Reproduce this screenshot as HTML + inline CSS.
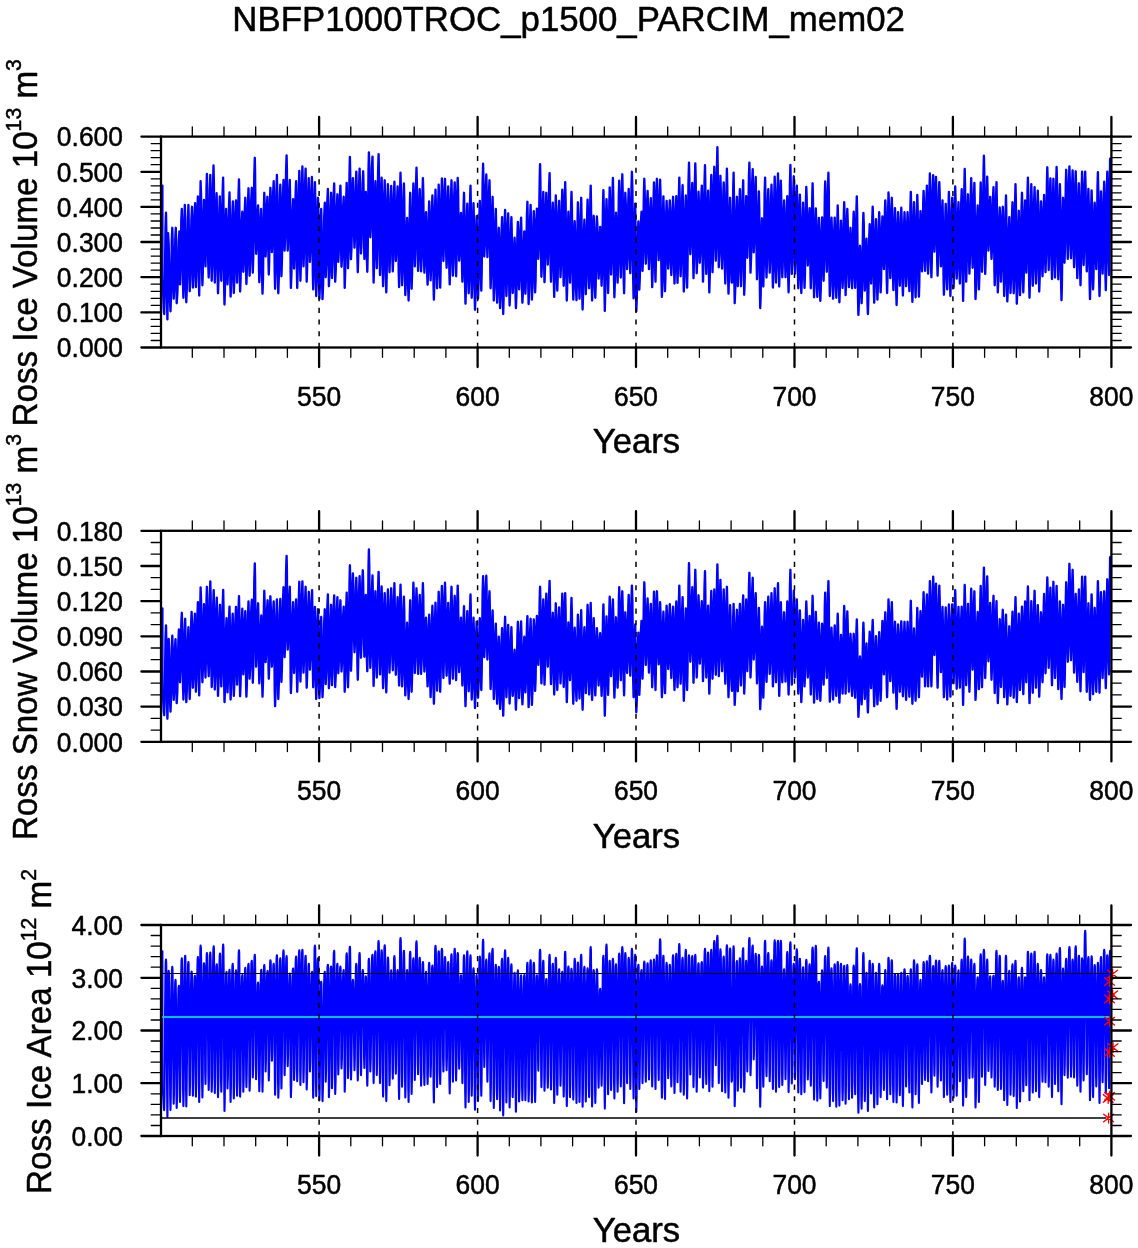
<!DOCTYPE html>
<html><head><meta charset="utf-8"><title>NBFP1000TROC_p1500_PARCIM_mem02</title>
<style>html,body{margin:0;padding:0;background:#fff;}svg{display:block;}text{font-family:"Liberation Sans",sans-serif;fill:#000;stroke:#000;stroke-width:0.5px;stroke-linejoin:round;}#wrap{position:relative;width:1138px;height:1248px;overflow:hidden;}#wrap svg{position:absolute;left:0;top:0;}#labels{filter:grayscale(1);}</style>
</head><body><div id="wrap">
<svg width="1138" height="1248" viewBox="0 0 1138 1248">
<rect x="0" y="0" width="1138" height="1248" fill="#ffffff"/>
<g>
<path d="M162.4,185.6 162.4,199.3 162.4,232.3 162.4,265.3 162.4,279.0 162.8,284.1 163.3,296.5 163.7,308.8 164.2,314.0 164.6,299.1 165.1,263.3 165.5,227.4 166.0,212.6 166.3,228.2 166.7,266.0 167.1,303.7 167.4,319.4 167.6,306.7 167.8,276.3 167.9,245.8 168.1,233.2 168.7,244.6 169.3,272.2 169.9,299.8 170.5,311.3 170.9,299.1 171.4,269.6 171.8,240.0 172.3,227.8 172.6,238.2 173.0,263.3 173.3,288.3 173.7,298.7 174.2,288.3 174.8,263.3 175.3,238.2 175.8,227.8 176.1,238.9 176.3,265.5 176.5,292.2 176.7,303.2 177.4,292.7 178.1,267.3 178.8,241.9 179.4,231.4 179.6,239.2 179.7,257.9 179.8,276.6 180.0,284.4 180.4,273.3 180.9,246.7 181.3,220.0 181.8,209.0 182.2,222.0 182.6,253.4 183.0,284.8 183.4,297.8 183.7,284.2 184.1,251.4 184.5,218.6 184.8,205.0 185.2,219.3 185.5,253.7 185.9,288.1 186.3,302.3 186.8,288.1 187.3,253.7 187.9,219.3 188.4,205.0 188.7,217.6 189.0,248.1 189.4,278.6 189.7,291.2 190.2,278.8 190.8,249.0 191.4,219.2 192.0,206.8 192.2,218.6 192.4,247.2 192.7,275.8 192.9,287.6 193.4,275.2 194.0,245.4 194.5,215.6 195.1,203.2 195.3,215.5 195.5,245.1 195.7,274.8 195.9,287.1 196.4,273.8 196.9,241.7 197.4,209.7 197.9,196.4 198.2,210.9 198.6,245.9 198.9,281.0 199.2,295.5 199.5,278.7 199.9,238.3 200.3,197.9 200.6,181.2 201.1,196.4 201.5,233.2 202.0,270.0 202.4,285.3 202.8,272.8 203.2,242.6 203.6,212.5 204.0,200.0 204.4,209.7 204.7,233.2 205.1,256.7 205.5,266.4 205.8,252.9 206.2,220.2 206.5,187.5 206.9,174.0 207.3,189.1 207.8,225.8 208.2,262.4 208.7,277.5 209.1,262.5 209.5,226.2 209.9,189.9 210.3,174.9 210.7,190.4 211.0,227.8 211.4,265.3 211.7,280.8 212.2,263.9 212.6,223.2 213.1,182.4 213.5,165.5 213.9,182.7 214.2,224.1 214.5,265.4 214.8,282.6 215.2,269.5 215.7,237.9 216.1,206.3 216.6,193.2 216.9,207.8 217.3,243.3 217.7,278.7 218.0,293.3 218.5,279.1 218.9,244.9 219.4,210.6 219.8,196.4 220.2,208.8 220.5,238.6 220.9,268.4 221.3,280.8 221.7,265.7 222.2,229.2 222.6,192.7 223.1,177.6 223.4,196.1 223.8,241.0 224.1,285.9 224.5,304.5 224.9,290.5 225.3,256.7 225.7,223.0 226.1,209.0 226.5,220.0 226.8,246.7 227.2,273.3 227.5,284.4 228.0,270.9 228.5,238.4 229.0,205.9 229.5,192.5 229.8,207.7 230.1,244.5 230.3,281.3 230.6,296.6 231.2,282.6 231.8,249.0 232.3,215.4 232.9,201.4 233.1,214.8 233.4,247.2 233.6,279.6 233.8,293.0 234.4,279.4 234.9,246.7 235.4,213.9 236.0,200.4 236.2,212.4 236.5,241.5 236.8,270.5 237.1,282.6 237.5,267.5 238.0,231.0 238.5,194.5 239.0,179.4 239.3,195.8 239.6,235.4 239.8,275.1 240.1,291.5 240.6,279.8 241.2,251.6 241.7,223.4 242.3,211.7 242.5,220.5 242.8,241.7 243.1,263.0 243.3,271.8 243.8,261.0 244.3,234.8 244.8,208.7 245.3,197.8 245.6,210.5 245.8,240.9 246.1,271.4 246.4,284.0 246.9,270.0 247.5,236.2 248.0,202.3 248.5,188.3 248.8,201.1 249.1,232.0 249.3,262.9 249.6,275.7 250.2,262.9 250.7,231.8 251.2,200.7 251.8,187.8 252.0,200.2 252.3,230.2 252.6,260.3 252.8,272.7 253.3,255.9 253.8,215.3 254.3,174.6 254.8,157.8 255.1,171.9 255.4,205.8 255.8,239.8 256.1,253.8 256.6,246.7 257.1,229.6 257.6,212.5 258.1,205.4 258.4,216.6 258.7,243.8 259.0,271.0 259.3,282.2 259.8,271.5 260.2,245.6 260.7,219.7 261.1,209.0 261.5,221.4 261.8,251.3 262.2,281.3 262.5,293.7 263.0,278.9 263.4,243.3 263.9,207.6 264.3,192.8 264.6,202.2 265.0,224.7 265.3,247.2 265.6,256.5 266.0,247.8 266.5,226.7 266.9,205.5 267.4,196.8 267.7,208.2 268.1,235.6 268.5,263.1 268.8,274.5 269.2,261.8 269.6,231.1 270.0,200.5 270.4,187.8 270.8,197.2 271.2,219.9 271.5,242.6 271.9,252.1 272.3,241.7 272.8,216.6 273.2,191.5 273.7,181.2 274.0,196.9 274.4,235.0 274.7,273.1 275.1,288.8 275.6,272.2 276.0,231.9 276.4,191.6 276.9,174.9 277.3,192.2 277.6,234.1 278.0,276.0 278.3,293.3 278.8,277.4 279.3,239.0 279.8,200.6 280.3,184.7 280.6,198.1 280.8,230.5 281.1,262.9 281.4,276.3 281.9,262.2 282.5,228.1 283.0,194.0 283.5,179.9 283.8,190.3 284.1,215.3 284.3,240.3 284.6,250.6 285.1,236.7 285.6,203.1 286.1,169.4 286.6,155.5 286.9,169.4 287.1,203.1 287.4,236.7 287.7,250.6 288.2,240.3 288.7,215.3 289.3,190.3 289.8,179.9 290.1,195.7 290.4,233.9 290.6,272.1 290.9,287.9 291.4,274.9 292.0,243.5 292.5,212.1 293.1,199.1 293.3,209.3 293.6,233.8 293.9,258.4 294.1,268.6 294.6,255.8 295.1,224.9 295.6,194.0 296.1,181.2 296.4,196.8 296.6,234.6 296.9,272.3 297.2,287.9 297.7,270.8 298.3,229.4 298.8,188.1 299.3,170.9 299.6,187.0 299.9,225.8 300.1,264.7 300.4,280.8 300.9,264.0 301.4,223.6 301.9,183.2 302.4,166.4 302.7,181.1 302.9,216.4 303.2,251.8 303.5,266.4 304.0,252.1 304.5,217.5 305.1,182.9 305.6,168.6 305.9,185.1 306.2,225.1 306.4,265.1 306.7,281.7 307.2,266.5 307.7,229.9 308.2,193.3 308.7,178.1 309.0,190.4 309.3,220.0 309.6,249.6 309.9,261.9 310.4,249.5 310.9,219.5 311.4,189.5 311.9,177.0 312.2,193.5 312.5,233.2 312.8,272.9 313.2,289.4 313.6,273.7 314.1,235.7 314.5,197.8 314.9,182.1 315.3,198.7 315.6,239.0 315.9,279.3 316.2,296.0 316.7,281.6 317.1,246.9 317.6,212.2 318.0,197.8 318.4,212.6 318.7,248.3 319.1,283.9 319.4,298.7 319.9,285.6 320.3,253.8 320.8,222.1 321.2,209.0 321.5,222.2 321.9,254.0 322.2,285.9 322.5,299.1 323.1,285.0 323.7,250.9 324.2,216.8 324.8,202.7 325.0,213.6 325.3,239.9 325.5,266.3 325.7,277.2 326.3,264.2 326.8,233.0 327.3,201.8 327.9,188.9 328.1,203.1 328.4,237.5 328.7,271.9 328.9,286.2 329.5,272.5 330.0,239.5 330.6,206.5 331.1,192.8 331.3,205.3 331.6,235.4 331.8,265.6 332.0,278.1 332.5,264.2 333.1,230.8 333.6,197.3 334.2,183.5 334.4,197.9 334.7,232.6 335.0,267.3 335.2,281.7 335.8,268.9 336.3,238.0 336.8,207.1 337.4,194.3 337.6,204.2 337.8,228.1 338.1,252.0 338.3,261.9 338.8,250.8 339.4,223.8 339.9,196.8 340.4,185.6 340.7,197.5 341.0,226.2 341.2,254.9 341.5,266.8 342.1,256.5 342.6,231.8 343.1,207.0 343.7,196.8 343.9,210.1 344.2,242.4 344.5,274.6 344.7,287.9 345.2,272.6 345.7,235.4 346.2,198.3 346.7,182.9 347.0,195.4 347.3,225.6 347.7,255.7 348.0,268.2 348.5,251.9 349.0,212.6 349.5,173.2 349.9,156.9 350.2,171.9 350.5,208.1 350.8,244.2 351.0,259.2 351.5,247.3 352.0,218.7 352.4,190.0 352.9,178.1 353.3,188.3 353.7,212.8 354.1,237.4 354.5,247.6 355.0,236.4 355.4,209.6 355.9,182.8 356.3,171.6 356.7,186.4 357.1,221.9 357.4,257.4 357.8,272.2 358.2,257.0 358.7,220.4 359.1,183.8 359.6,168.6 359.9,181.0 360.3,211.0 360.6,241.1 361.0,253.5 361.5,241.4 362.1,212.4 362.6,183.3 363.2,171.3 363.5,184.1 363.8,215.1 364.1,246.0 364.4,258.9 364.8,249.1 365.1,225.4 365.5,201.7 365.8,191.9 366.2,203.6 366.6,231.9 366.9,260.1 367.3,271.8 367.7,254.3 368.1,212.1 368.5,169.9 368.9,152.4 369.3,164.9 369.6,194.9 370.0,224.9 370.3,237.3 370.9,225.5 371.4,196.9 371.9,168.4 372.5,156.6 372.8,175.0 373.0,219.6 373.3,264.1 373.6,282.6 374.0,267.7 374.5,231.9 374.9,196.0 375.4,181.2 375.7,193.9 376.1,224.7 376.4,255.5 376.8,268.2 377.2,251.5 377.7,211.2 378.1,170.9 378.6,154.2 378.9,171.9 379.3,214.6 379.7,257.3 380.0,275.0 380.4,260.8 380.8,226.3 381.2,191.8 381.6,177.6 382.0,193.5 382.4,231.9 382.7,270.3 383.1,286.2 383.5,270.6 383.9,233.2 384.3,195.8 384.7,180.3 385.1,196.7 385.5,236.3 385.9,276.0 386.3,292.4 386.7,276.6 387.1,238.3 387.5,200.1 387.9,184.2 388.3,197.1 388.7,228.2 389.1,259.3 389.5,272.2 389.9,259.5 390.3,229.1 390.8,198.6 391.2,186.0 391.6,198.5 392.0,228.7 392.4,258.9 392.8,271.4 393.2,258.3 393.6,226.6 394.0,194.8 394.4,181.7 394.7,193.3 395.1,221.4 395.5,249.4 395.8,261.0 396.3,250.1 396.7,223.8 397.2,197.4 397.6,186.5 398.0,201.3 398.3,236.8 398.7,272.3 399.1,287.1 399.4,270.3 399.8,229.9 400.1,189.5 400.5,172.7 400.9,189.2 401.3,229.0 401.7,268.8 402.1,285.3 402.6,270.4 403.0,234.4 403.4,198.4 403.9,183.5 404.3,199.8 404.6,239.3 405.0,278.8 405.3,295.1 405.8,283.8 406.2,256.5 406.7,229.3 407.1,217.9 407.5,230.0 407.8,259.2 408.2,288.4 408.6,300.5 409.0,284.7 409.4,246.7 409.8,208.6 410.2,192.8 410.5,206.9 410.9,240.8 411.3,274.8 411.6,288.8 412.1,273.4 412.5,236.2 413.0,198.9 413.4,183.5 413.8,195.6 414.1,224.9 414.5,254.3 414.8,266.4 415.2,252.0 415.7,217.1 416.1,182.1 416.5,167.7 416.9,182.8 417.3,219.3 417.7,255.8 418.1,270.9 418.5,258.9 418.9,230.1 419.3,201.2 419.7,189.2 420.1,201.3 420.4,230.3 420.8,259.4 421.1,271.4 421.6,257.8 422.0,224.8 422.5,191.8 422.9,178.1 423.3,192.0 423.6,225.4 424.0,258.8 424.4,272.7 424.8,263.8 425.2,242.4 425.6,221.1 426.0,212.2 426.4,222.8 426.8,248.5 427.2,274.1 427.6,284.7 428.0,272.5 428.4,243.1 428.8,213.6 429.2,201.4 429.6,213.0 429.9,240.9 430.3,268.8 430.6,280.4 431.1,268.0 431.5,238.0 432.0,207.9 432.4,195.5 432.8,210.8 433.2,247.6 433.5,284.4 433.9,299.6 434.3,283.5 434.7,244.6 435.1,205.7 435.5,189.6 435.9,204.0 436.3,238.9 436.7,273.9 437.1,288.3 437.5,273.1 437.9,236.5 438.3,199.9 438.7,184.7 439.1,199.8 439.4,236.2 439.8,272.5 440.2,287.6 440.6,271.6 441.1,233.0 441.5,194.4 441.9,178.5 442.3,190.6 442.7,219.7 443.0,248.9 443.4,261.0 443.8,249.0 444.2,219.9 444.6,190.9 445.0,178.8 445.4,191.9 445.8,223.3 446.2,254.8 446.6,267.8 447.0,255.9 447.4,227.2 447.8,198.4 448.2,186.5 448.6,200.9 448.9,235.4 449.3,270.0 449.7,284.4 450.1,269.1 450.6,232.3 451.0,195.5 451.5,180.3 451.8,194.2 452.2,228.0 452.5,261.8 452.9,275.7 453.3,262.1 453.8,229.1 454.2,196.1 454.7,182.4 455.1,196.2 455.4,229.3 455.8,262.5 456.1,276.3 456.5,261.9 456.9,227.1 457.3,192.3 457.7,177.9 458.1,190.0 458.5,219.3 458.8,248.5 459.2,260.7 459.6,253.7 460.1,236.8 460.5,219.9 461.0,212.9 461.3,223.0 461.7,247.3 462.1,271.6 462.4,281.7 462.8,268.7 463.2,237.2 463.6,205.8 464.0,192.8 464.4,209.1 464.7,248.3 465.1,287.5 465.5,303.7 465.9,289.1 466.4,253.7 466.8,218.3 467.3,203.6 467.6,216.7 468.0,248.5 468.3,280.2 468.7,293.3 469.1,277.6 469.6,239.5 470.0,201.4 470.5,185.6 470.8,202.1 471.1,241.7 471.4,281.4 471.7,297.8 472.2,284.0 472.6,250.5 473.1,217.1 473.5,203.2 473.9,218.8 474.3,256.5 474.6,294.2 475.0,309.8 475.4,296.1 475.8,263.0 476.2,229.9 476.6,216.2 476.9,228.2 477.3,257.4 477.7,286.6 478.0,298.7 478.5,284.4 478.9,249.8 479.4,215.2 479.8,200.9 480.2,214.0 480.5,245.8 480.9,277.5 481.3,290.6 481.7,272.1 482.2,227.2 482.6,182.3 483.1,163.7 483.4,177.3 483.7,210.1 484.0,242.9 484.3,256.5 484.8,244.5 485.3,215.5 485.8,186.5 486.3,174.5 486.6,186.6 486.8,215.8 487.1,245.0 487.4,257.1 487.9,245.8 488.4,218.7 489.0,191.5 489.5,180.3 489.8,196.1 490.1,234.3 490.3,272.5 490.6,288.3 491.1,274.9 491.6,242.5 492.1,210.2 492.6,196.8 492.9,212.0 493.2,248.6 493.5,285.3 493.8,300.5 494.3,287.1 494.8,254.7 495.3,222.4 495.8,209.0 496.1,222.7 496.4,255.8 496.7,288.9 497.1,302.7 497.5,291.7 497.9,265.2 498.4,238.8 498.8,227.8 499.2,239.6 499.5,267.9 499.8,296.3 500.1,308.1 500.6,294.7 501.1,262.6 501.6,230.4 502.1,217.1 502.3,231.2 502.6,265.5 502.9,299.8 503.2,314.0 503.6,298.7 504.1,261.9 504.6,225.1 505.1,209.9 505.4,222.5 505.8,252.9 506.1,283.4 506.4,296.0 506.8,283.9 507.3,254.7 507.7,225.6 508.2,213.5 508.5,226.9 508.9,259.5 509.3,292.1 509.6,305.5 510.1,292.6 510.5,261.3 511.0,230.0 511.4,217.1 511.7,228.2 512.0,255.0 512.4,281.9 512.7,293.0 513.2,284.9 513.7,265.3 514.1,245.8 514.6,237.7 515.0,248.0 515.3,272.9 515.6,297.7 515.9,308.1 516.4,295.4 516.9,265.0 517.4,234.5 517.9,221.9 518.2,231.8 518.5,255.6 518.8,279.5 519.1,289.4 519.6,278.9 520.1,253.5 520.6,228.1 521.1,217.6 521.4,230.0 521.7,260.1 522.0,290.2 522.4,302.7 522.9,292.2 523.3,267.0 523.8,241.8 524.3,231.4 524.6,240.5 524.9,262.6 525.1,284.6 525.4,293.7 525.9,280.2 526.4,247.7 526.9,215.3 527.4,201.8 527.7,216.8 528.0,252.9 528.3,289.1 528.6,304.1 529.1,289.6 529.6,254.6 530.1,219.5 530.6,205.0 530.9,218.9 531.2,252.3 531.6,285.8 531.9,299.6 532.4,286.7 532.9,255.4 533.4,224.1 533.8,211.1 534.2,223.0 534.5,251.8 534.8,280.5 535.1,292.4 535.6,280.2 536.0,250.5 536.4,220.9 536.9,208.6 537.3,216.0 537.6,233.7 538.0,251.5 538.3,258.9 538.8,245.0 539.2,211.5 539.7,178.0 540.1,164.1 540.4,180.6 540.8,220.5 541.1,260.3 541.4,276.8 541.9,264.4 542.3,234.4 542.8,204.4 543.3,191.9 543.6,205.1 543.9,237.1 544.2,269.0 544.5,282.2 545.0,269.1 545.4,237.5 545.9,205.9 546.3,192.8 546.7,203.3 547.1,228.7 547.4,254.1 547.8,264.6 548.2,251.2 548.7,218.8 549.1,186.5 549.6,173.1 549.9,189.0 550.3,227.4 550.6,265.8 551.0,281.7 551.4,270.1 551.9,242.2 552.3,214.3 552.8,202.7 553.2,216.5 553.5,249.8 553.9,283.1 554.2,296.9 554.6,282.1 555.0,246.2 555.4,210.4 555.8,195.5 556.2,209.4 556.6,243.1 556.9,276.7 557.3,290.6 557.7,277.5 558.2,245.8 558.6,214.0 559.1,200.9 559.4,212.1 559.8,239.0 560.2,266.0 560.5,277.2 561.0,264.4 561.4,233.4 561.9,202.4 562.3,189.6 562.7,203.7 563.0,237.7 563.4,271.7 563.7,285.8 564.1,270.6 564.5,233.9 564.8,197.2 565.2,182.1 565.6,199.4 566.0,241.3 566.4,283.2 566.8,300.5 567.2,287.5 567.6,256.1 568.0,224.7 568.4,211.7 568.8,222.0 569.2,247.1 569.6,272.2 570.0,282.6 570.4,269.3 570.7,237.2 571.1,205.2 571.5,191.9 571.9,207.7 572.4,245.8 572.8,283.8 573.3,299.6 573.6,288.1 574.0,260.4 574.3,232.7 574.7,221.2 575.1,232.7 575.6,260.7 576.0,288.6 576.5,300.2 576.8,285.8 577.2,251.2 577.6,216.7 577.9,202.3 578.3,216.4 578.7,250.5 579.1,284.6 579.5,298.7 579.9,283.9 580.3,248.3 580.8,212.6 581.2,197.8 581.5,214.2 581.9,253.7 582.2,293.1 582.6,309.5 583.0,296.3 583.5,264.6 583.9,232.9 584.4,219.7 584.7,230.7 585.1,257.0 585.5,283.3 585.8,294.2 586.3,280.4 586.7,246.9 587.2,213.5 587.6,199.6 588.0,212.6 588.3,244.0 588.7,275.3 589.1,288.3 589.5,273.3 589.9,237.0 590.3,200.7 590.7,185.6 591.0,202.5 591.4,243.1 591.7,283.7 592.1,300.5 592.5,288.1 592.9,258.2 593.3,228.2 593.7,215.8 594.1,227.8 594.5,256.8 594.9,285.8 595.3,297.8 595.7,285.9 596.1,257.2 596.5,228.4 596.9,216.5 597.4,225.6 597.8,247.6 598.2,269.5 598.6,278.6 599.0,271.0 599.4,252.8 599.8,234.5 600.2,226.9 600.5,235.5 600.9,256.4 601.3,277.2 601.6,285.8 602.1,271.8 602.5,238.0 603.0,204.1 603.4,190.1 603.8,207.8 604.1,250.5 604.5,293.2 604.8,310.9 605.2,294.5 605.7,255.0 606.1,215.5 606.5,199.1 606.9,212.8 607.3,246.0 607.7,279.2 608.1,293.0 608.5,277.5 608.9,240.2 609.3,202.9 609.7,187.4 610.1,200.2 610.4,231.0 610.8,261.7 611.1,274.5 611.6,260.3 612.0,226.2 612.5,192.1 612.9,177.9 613.3,195.4 613.6,237.6 614.0,279.8 614.4,297.3 614.8,284.9 615.2,254.9 615.6,225.0 616.0,212.6 616.4,222.8 616.8,247.6 617.2,272.3 617.6,282.6 618.0,267.6 618.4,231.6 618.8,195.5 619.2,180.6 619.6,194.8 620.0,229.1 620.4,263.3 620.8,277.5 621.2,262.4 621.5,225.9 621.9,189.4 622.3,174.3 622.7,191.8 623.2,233.8 623.6,275.9 624.1,293.3 624.4,278.6 624.7,243.1 625.0,207.5 625.3,192.8 625.8,204.0 626.2,231.0 626.7,257.9 627.1,269.1 627.5,257.4 627.9,229.0 628.3,200.6 628.7,188.9 629.1,201.2 629.5,231.1 629.9,260.9 630.3,273.2 630.7,258.4 631.1,222.5 631.5,186.7 631.9,171.8 632.4,190.4 632.8,235.1 633.2,279.8 633.6,298.4 634.0,284.5 634.4,251.0 634.8,217.5 635.2,203.6 635.4,219.4 635.7,257.4 636.0,295.5 636.3,311.3 636.8,298.1 637.3,266.4 637.9,234.7 638.4,221.5 638.6,231.5 638.9,255.6 639.1,279.8 639.3,289.7 639.8,278.3 640.4,250.7 640.9,223.1 641.5,211.7 641.7,220.3 642.0,241.3 642.3,262.2 642.5,270.9 643.0,257.4 643.4,224.9 643.9,192.3 644.3,178.8 644.7,191.3 645.1,221.3 645.4,251.3 645.8,263.7 646.2,253.1 646.7,227.4 647.1,201.7 647.6,191.0 647.9,202.5 648.3,230.1 648.6,257.7 649.0,269.1 649.4,258.7 649.9,233.7 650.3,208.6 650.8,198.2 651.2,211.2 651.5,242.6 651.9,274.0 652.2,287.1 652.7,271.7 653.1,234.7 653.6,197.7 654.0,182.4 654.4,196.9 654.7,232.0 655.1,267.1 655.5,281.7 655.8,266.6 656.2,230.2 656.5,193.9 656.9,178.8 657.3,190.7 657.8,219.5 658.2,248.2 658.7,260.1 659.1,248.4 659.4,219.9 659.8,191.5 660.1,179.7 660.6,196.9 661.0,238.3 661.5,279.8 661.9,296.9 662.3,282.2 662.6,246.7 663.0,211.1 663.4,196.4 663.8,210.3 664.2,243.8 664.6,277.3 665.0,291.2 665.4,278.0 665.8,246.0 666.2,214.1 666.6,200.9 667.0,210.8 667.4,234.7 667.8,258.7 668.2,268.6 668.6,258.6 669.0,234.5 669.4,210.3 669.8,200.4 670.2,211.3 670.5,237.7 670.9,264.1 671.3,275.0 671.7,263.6 672.2,235.9 672.6,208.2 673.1,196.8 673.4,209.5 673.8,240.1 674.1,270.8 674.5,283.5 674.9,270.7 675.4,239.8 675.8,208.9 676.3,196.1 676.6,208.8 676.9,239.5 677.2,270.2 677.5,282.9 678.0,267.5 678.4,230.2 678.9,193.0 679.3,177.6 679.6,192.0 680.0,226.9 680.3,261.8 680.6,276.3 681.1,262.9 681.6,230.7 682.1,198.5 682.6,185.1 682.9,200.7 683.2,238.3 683.5,276.0 683.8,291.5 684.3,277.5 684.8,243.5 685.3,209.6 685.8,195.5 686.1,209.0 686.4,241.6 686.7,274.1 687.1,287.6 687.5,269.3 688.0,225.1 688.5,181.0 689.0,162.7 689.3,176.1 689.7,208.4 690.0,240.8 690.3,254.2 690.8,243.8 691.3,218.6 691.8,193.4 692.3,182.9 692.6,196.9 692.9,230.5 693.2,264.1 693.5,278.1 694.0,261.3 694.4,220.7 694.9,180.2 695.3,163.4 695.7,179.5 696.0,218.3 696.4,257.1 696.7,273.2 697.2,261.3 697.6,232.4 698.1,203.5 698.5,191.6 698.9,202.0 699.2,227.2 699.5,252.4 699.8,262.8 700.3,251.5 700.8,224.2 701.3,196.9 701.8,185.6 702.1,199.7 702.4,233.7 702.7,267.6 703.0,281.7 703.5,264.6 704.0,223.4 704.5,182.2 705.0,165.2 705.3,181.1 705.6,219.6 705.9,258.0 706.3,273.9 706.7,261.8 707.2,232.3 707.6,202.9 708.1,190.7 708.4,205.6 708.7,241.6 709.0,277.5 709.3,292.4 709.8,275.2 710.3,233.7 710.8,192.1 711.3,174.9 711.6,189.1 711.9,223.5 712.2,257.9 712.5,272.2 713.0,256.7 713.4,219.5 713.9,182.2 714.3,166.8 714.7,180.5 715.1,213.7 715.4,246.9 715.8,260.7 716.2,244.1 716.6,203.9 717.0,163.8 717.4,147.2 717.7,164.8 718.1,207.3 718.5,249.7 718.8,267.3 719.2,253.9 719.6,221.5 720.0,189.2 720.4,175.8 720.8,189.4 721.2,222.2 721.6,255.0 722.1,268.6 722.5,255.9 722.9,225.5 723.3,195.0 723.7,182.4 724.1,197.2 724.5,232.9 724.9,268.7 725.3,283.5 725.7,266.6 726.1,226.0 726.5,185.4 726.9,168.6 727.3,186.9 727.7,231.1 728.1,275.4 728.5,293.7 728.9,279.7 729.3,245.8 729.7,211.9 730.1,197.8 730.5,210.2 730.8,240.0 731.2,269.9 731.6,282.2 731.7,282.3 731.8,282.4 731.9,282.5 732.0,282.6 732.4,266.5 732.8,227.6 733.2,188.8 733.6,172.7 733.9,191.8 734.2,238.0 734.4,284.1 734.7,303.2 735.3,287.6 735.8,250.0 736.3,212.4 736.9,196.8 737.1,209.9 737.3,241.5 737.5,273.1 737.8,286.2 738.3,272.0 738.8,237.7 739.4,203.4 739.9,189.2 740.2,203.4 740.5,237.7 740.7,272.0 741.0,286.2 741.5,270.6 742.1,233.2 742.6,195.8 743.2,180.3 743.4,197.0 743.7,237.5 744.0,278.0 744.2,294.8 744.7,280.3 745.2,245.4 745.7,210.5 746.2,196.1 746.5,205.1 746.7,226.9 747.0,248.8 747.3,257.8 747.8,243.9 748.4,210.2 748.9,176.6 749.4,162.7 749.7,178.8 750.0,217.7 750.2,256.6 750.5,272.7 751.1,257.5 751.6,220.9 752.1,184.3 752.7,169.1 752.9,181.3 753.2,210.8 753.5,240.2 753.7,252.4 754.2,241.4 754.7,214.7 755.2,188.1 755.7,177.0 756.0,192.0 756.3,228.2 756.7,264.4 757.0,279.3 757.5,266.5 758.0,235.4 758.5,204.3 758.9,191.4 759.3,208.5 759.6,249.7 759.9,291.0 760.2,308.1 760.7,294.9 761.1,263.2 761.6,231.5 762.0,218.3 762.3,228.3 762.6,252.4 762.9,276.5 763.3,286.5 763.7,270.6 764.2,232.0 764.6,193.5 765.1,177.6 765.4,192.2 765.8,227.6 766.1,262.9 766.5,277.5 766.9,264.6 767.4,233.4 767.8,202.2 768.3,189.2 768.6,201.5 769.0,231.0 769.4,260.5 769.7,272.7 770.2,259.8 770.6,228.7 771.1,197.6 771.5,184.7 771.9,199.8 772.2,236.2 772.6,272.5 772.9,287.6 773.4,271.3 773.8,232.1 774.3,192.9 774.7,176.7 775.1,192.2 775.4,229.6 775.7,267.1 776.0,282.6 776.5,266.6 777.0,228.0 777.5,189.4 778.0,173.4 778.3,190.0 778.6,230.0 778.9,270.0 779.2,286.5 779.6,271.0 780.0,233.6 780.4,196.1 780.8,180.6 781.2,194.8 781.6,228.9 781.9,263.0 782.3,277.2 782.7,265.9 783.2,238.8 783.6,211.6 784.1,200.4 784.4,211.6 784.8,238.8 785.2,265.9 785.5,277.2 786.0,265.3 786.4,236.6 786.9,207.9 787.3,196.1 787.6,210.2 787.9,244.2 788.2,278.3 788.6,292.4 789.0,273.8 789.5,228.7 789.9,183.7 790.4,165.0 790.7,181.0 791.1,219.5 791.4,258.0 791.8,273.9 792.3,259.6 792.8,225.1 793.3,190.6 793.8,176.3 794.1,190.6 794.4,224.9 794.7,259.3 795.0,273.6 795.5,260.7 795.9,229.6 796.4,198.5 796.8,185.6 797.2,200.7 797.5,237.0 797.9,273.3 798.3,288.3 798.7,274.6 799.1,241.5 799.5,208.3 799.9,194.6 800.2,209.0 800.6,243.8 800.9,278.6 801.3,293.0 801.8,279.8 802.2,247.8 802.7,215.9 803.1,202.7 803.5,215.2 803.8,245.3 804.2,275.5 804.5,287.9 805.0,273.2 805.4,237.4 805.9,201.7 806.3,186.9 806.7,198.4 807.1,226.2 807.4,254.0 807.8,265.5 808.2,257.1 808.7,236.8 809.1,216.5 809.6,208.1 809.9,219.8 810.2,248.2 810.5,276.6 810.8,288.3 811.3,272.9 811.7,235.8 812.2,198.7 812.6,183.3 813.0,200.0 813.3,240.3 813.7,280.6 814.1,297.3 814.5,284.3 814.9,252.9 815.4,221.4 815.8,208.4 816.2,221.4 816.6,252.7 816.9,284.0 817.3,296.9 817.7,285.4 818.1,257.4 818.5,229.5 818.9,217.9 819.3,230.1 819.6,259.4 820.0,288.7 820.3,300.9 820.8,288.6 821.2,259.1 821.7,229.6 822.1,217.4 822.5,226.7 822.8,249.1 823.2,271.5 823.6,280.8 824.0,266.2 824.4,231.1 824.8,196.0 825.2,181.5 825.6,194.7 826.0,226.7 826.4,258.6 826.8,271.8 827.2,257.3 827.6,222.3 828.0,187.2 828.4,172.7 828.8,190.8 829.1,234.4 829.5,278.0 829.8,296.0 830.2,284.5 830.7,256.8 831.1,229.1 831.5,217.6 831.9,229.5 832.3,258.2 832.7,286.8 833.1,298.7 833.5,286.8 833.9,258.2 834.3,229.5 834.7,217.6 835.1,229.3 835.5,257.7 835.9,286.1 836.3,297.8 836.7,284.3 837.0,251.6 837.4,218.9 837.7,205.4 838.1,219.6 838.6,253.8 839.0,288.1 839.4,302.3 839.8,290.3 840.2,261.5 840.6,232.6 841.0,220.6 841.4,230.5 841.8,254.3 842.2,278.1 842.6,287.9 843.0,275.4 843.4,245.1 843.8,214.7 844.2,202.2 844.6,215.8 844.9,248.6 845.3,281.5 845.6,295.1 846.0,282.5 846.4,252.1 846.9,221.6 847.3,209.0 847.7,220.4 848.1,248.0 848.5,275.6 848.9,287.1 849.3,278.4 849.7,257.4 850.1,236.5 850.5,227.8 850.9,236.7 851.3,258.1 851.7,279.4 852.1,288.3 852.5,277.1 852.9,250.0 853.3,222.9 853.7,211.7 854.1,222.8 854.4,249.8 854.8,276.8 855.2,287.9 855.6,274.5 856.0,242.2 856.4,209.8 856.8,196.4 857.2,213.8 857.6,255.6 858.0,297.5 858.4,314.9 858.8,304.8 859.2,280.3 859.6,255.9 860.0,245.8 860.4,254.2 860.8,274.5 861.2,294.8 861.6,303.2 862.1,290.0 862.5,258.1 863.0,226.1 863.4,212.9 863.8,224.3 864.1,251.8 864.5,279.3 864.8,290.6 865.2,283.0 865.7,264.6 866.1,246.2 866.5,238.6 866.8,249.6 867.2,276.3 867.5,302.9 867.9,314.0 868.3,300.8 868.8,269.1 869.2,237.4 869.7,224.2 870.1,232.9 870.4,253.8 870.8,274.8 871.1,283.5 871.5,272.2 871.9,245.1 872.3,217.9 872.7,206.6 873.1,220.7 873.5,254.7 873.8,288.6 874.2,302.7 874.6,290.4 875.1,260.9 875.5,231.4 876.0,219.2 876.3,231.0 876.7,259.4 877.1,287.8 877.4,299.6 877.9,286.8 878.3,255.9 878.8,225.0 879.2,212.2 879.6,224.0 879.9,252.3 880.3,280.7 880.6,292.4 881.1,281.3 881.5,254.5 882.0,227.6 882.4,216.5 882.8,224.2 883.2,242.8 883.5,261.4 883.9,269.1 884.2,259.0 884.6,234.7 884.9,210.4 885.3,200.4 885.8,213.9 886.2,246.7 886.7,279.4 887.1,293.0 887.5,278.3 887.8,242.7 888.2,207.2 888.5,192.5 889.0,205.0 889.4,235.3 889.9,265.5 890.3,278.1 890.7,266.3 891.1,238.0 891.4,209.6 891.8,197.8 892.2,211.4 892.6,244.0 893.0,276.6 893.4,290.1 893.8,278.1 894.2,249.1 894.6,220.1 895.0,208.1 895.4,222.3 895.8,256.5 896.2,290.8 896.6,305.0 897.0,291.4 897.3,258.6 897.7,225.8 898.1,212.2 898.5,223.0 898.9,249.0 899.4,275.0 899.8,285.8 900.2,274.4 900.6,246.8 900.9,219.2 901.3,207.7 901.7,220.6 902.1,251.6 902.5,282.6 902.9,295.5 903.3,283.3 903.7,253.8 904.1,224.4 904.5,212.2 904.9,223.0 905.3,249.2 905.7,275.3 906.1,286.2 906.5,275.3 906.8,249.2 907.2,223.0 907.6,212.2 908.0,223.8 908.5,251.7 908.9,279.6 909.4,291.2 909.7,276.6 910.1,241.6 910.4,206.5 910.8,191.9 911.2,208.0 911.6,246.9 912.0,285.8 912.4,301.9 912.8,287.3 913.2,252.1 913.6,216.8 914.0,202.2 914.4,216.1 914.8,249.7 915.2,283.4 915.6,297.3 916.0,282.3 916.4,246.1 916.9,210.0 917.3,195.0 917.7,209.9 918.1,245.8 918.5,281.7 918.9,296.6 919.3,284.1 919.7,253.8 920.1,223.6 920.5,211.1 920.9,220.0 921.3,241.3 921.6,262.6 922.0,271.4 922.4,259.7 922.8,231.2 923.2,202.8 923.6,191.0 924.0,202.7 924.4,231.0 924.7,259.2 925.1,270.9 925.5,258.4 926.0,228.3 926.4,198.1 926.9,185.6 927.2,198.5 927.5,229.6 927.8,260.7 928.1,273.6 928.6,258.9 929.0,223.5 929.5,188.1 929.9,173.4 930.3,188.6 930.6,225.3 931.0,262.0 931.4,277.2 931.8,262.2 932.3,226.2 932.7,190.2 933.2,175.2 933.5,186.4 933.8,213.5 934.1,240.5 934.4,251.7 934.8,240.8 935.2,214.4 935.6,188.0 936.0,177.0 936.4,191.5 936.8,226.4 937.2,261.3 937.6,275.7 938.0,262.0 938.4,228.9 938.9,195.8 939.3,182.1 939.7,194.4 940.1,224.2 940.5,254.1 940.9,266.4 941.3,256.7 941.7,233.4 942.1,210.0 942.5,200.4 942.8,214.2 943.2,247.6 943.6,280.9 943.9,294.8 944.4,281.5 944.8,249.4 945.3,217.2 945.7,203.9 946.1,216.5 946.4,246.7 946.8,276.9 947.2,289.4 947.6,275.1 948.1,240.7 948.5,206.2 948.9,191.9 949.3,207.2 949.7,244.0 950.0,280.8 950.4,296.0 950.8,281.6 951.3,246.9 951.7,212.2 952.2,197.8 952.5,211.0 952.9,242.9 953.3,274.8 953.6,287.9 954.0,273.1 954.4,237.2 954.8,201.4 955.2,186.5 955.6,200.0 955.9,232.6 956.3,265.1 956.7,278.6 957.1,267.4 957.6,240.4 958.0,213.4 958.5,202.2 958.8,214.1 959.2,242.8 959.5,271.6 959.9,283.5 960.3,269.7 960.8,236.3 961.2,203.0 961.7,189.2 962.1,205.6 962.4,245.1 962.8,284.5 963.1,300.9 963.5,281.6 963.9,234.9 964.3,188.3 964.7,168.9 965.1,185.5 965.5,225.3 965.8,265.2 966.2,281.7 966.6,268.9 967.1,238.0 967.5,207.1 968.0,194.3 968.3,205.9 968.7,233.9 969.1,262.0 969.4,273.6 969.9,259.6 970.3,225.8 970.8,192.1 971.2,178.1 971.6,191.2 971.9,223.0 972.3,254.7 972.6,267.8 973.1,255.4 973.5,225.4 974.0,195.4 974.4,182.9 974.7,200.0 975.0,241.0 975.2,282.1 975.5,299.1 976.1,285.4 976.6,252.2 977.1,219.1 977.7,205.4 978.0,217.7 978.3,247.4 978.6,277.1 978.9,289.4 979.4,273.7 979.8,235.9 980.3,198.1 980.7,182.4 981.0,195.5 981.3,227.1 981.7,258.7 982.0,271.8 982.5,254.8 983.0,213.7 983.5,172.7 983.9,155.7 984.3,173.0 984.6,214.8 984.9,256.6 985.2,273.9 985.7,259.7 986.2,225.3 986.7,190.9 987.2,176.7 987.5,187.5 987.8,213.6 988.1,239.8 988.4,250.6 988.9,242.7 989.3,223.7 989.8,204.7 990.2,196.8 990.5,205.9 990.9,227.8 991.2,249.8 991.5,258.9 992.0,248.4 992.5,223.0 993.0,197.6 993.5,187.1 993.8,201.5 994.1,236.2 994.4,270.9 994.7,285.3 995.2,270.1 995.6,233.7 996.1,197.2 996.5,182.1 996.8,198.2 997.1,237.2 997.5,276.3 997.8,292.4 998.3,280.0 998.8,250.0 999.2,220.0 999.7,207.5 1000.1,218.4 1000.4,244.6 1000.7,270.8 1001.0,281.7 1001.4,270.7 1001.9,244.2 1002.3,217.8 1002.8,206.8 1003.2,219.9 1003.5,251.4 1003.9,283.0 1004.2,296.0 1004.7,281.3 1005.1,245.8 1005.6,210.2 1006.0,195.5 1006.3,211.0 1006.7,248.5 1007.0,285.9 1007.3,301.4 1007.8,289.1 1008.3,259.2 1008.8,229.4 1009.3,217.1 1009.6,228.2 1009.9,255.0 1010.2,281.9 1010.5,293.0 1011.0,279.7 1011.5,247.7 1012.0,215.6 1012.5,202.3 1012.8,215.7 1013.1,247.8 1013.4,280.0 1013.7,293.3 1014.2,277.4 1014.6,238.8 1015.1,200.2 1015.5,184.2 1015.9,201.7 1016.2,244.0 1016.5,286.2 1016.8,303.7 1017.3,290.1 1017.8,257.3 1018.3,224.4 1018.8,210.8 1019.1,223.1 1019.4,252.9 1019.7,282.8 1020.0,295.1 1020.5,280.1 1021.0,244.0 1021.5,207.8 1022.0,192.8 1022.3,207.4 1022.6,242.6 1022.9,277.8 1023.3,292.4 1023.7,279.0 1024.2,246.5 1024.6,214.0 1025.1,200.5 1025.4,211.1 1025.7,236.6 1026.0,262.1 1026.3,272.7 1026.7,258.8 1027.1,225.1 1027.5,191.5 1027.9,177.6 1028.3,195.2 1028.7,237.7 1029.1,280.2 1029.5,297.8 1030.0,281.2 1030.4,241.0 1030.9,200.8 1031.3,184.2 1031.7,199.1 1032.1,235.0 1032.4,270.9 1032.8,285.8 1033.2,271.3 1033.7,236.4 1034.1,201.5 1034.6,187.1 1034.9,201.2 1035.3,235.3 1035.6,269.3 1036.0,283.5 1036.4,269.9 1036.9,237.1 1037.3,204.3 1037.8,190.7 1038.2,205.4 1038.5,241.1 1038.9,276.8 1039.2,291.5 1039.7,278.3 1040.1,246.5 1040.6,214.6 1041.0,201.4 1041.4,212.4 1041.7,238.9 1042.1,265.3 1042.5,276.3 1042.9,264.4 1043.3,235.6 1043.7,206.9 1044.1,195.0 1044.4,206.3 1044.8,233.6 1045.2,260.9 1045.5,272.2 1046.0,256.8 1046.4,219.7 1046.9,182.7 1047.3,167.3 1047.7,182.4 1048.0,218.7 1048.4,255.0 1048.7,270.0 1049.1,256.6 1049.6,224.2 1050.0,191.9 1050.4,178.5 1050.8,193.2 1051.2,228.7 1051.6,264.3 1052.0,279.0 1052.3,264.3 1052.7,228.9 1053.1,193.5 1053.4,178.8 1053.8,193.3 1054.2,228.2 1054.6,263.1 1055.0,277.5 1055.4,261.3 1055.8,222.3 1056.2,183.2 1056.6,167.0 1057.0,183.4 1057.4,223.2 1057.9,262.9 1058.3,279.3 1058.7,265.4 1059.1,231.8 1059.5,198.1 1059.9,184.2 1060.3,201.2 1060.7,242.2 1061.1,283.2 1061.5,300.2 1061.9,285.2 1062.3,249.0 1062.7,212.8 1063.1,197.8 1063.5,207.4 1063.8,230.3 1064.2,253.3 1064.5,262.8 1064.9,249.2 1065.3,216.3 1065.8,183.5 1066.2,169.8 1066.6,182.9 1067.0,214.4 1067.4,245.8 1067.8,258.9 1068.2,245.3 1068.6,212.7 1069.0,180.0 1069.4,166.4 1069.8,179.9 1070.2,212.4 1070.6,244.9 1071.0,258.3 1071.4,245.5 1071.8,214.4 1072.2,183.3 1072.6,170.4 1073.0,184.6 1073.3,218.8 1073.7,253.1 1074.1,267.3 1074.5,253.2 1074.9,219.3 1075.3,185.3 1075.7,171.3 1076.1,186.9 1076.5,224.7 1076.9,262.4 1077.3,278.1 1077.7,264.2 1078.1,230.7 1078.5,197.2 1078.9,183.3 1079.3,198.2 1079.7,234.3 1080.1,270.3 1080.5,285.3 1080.9,268.6 1081.3,228.4 1081.7,188.3 1082.1,171.6 1082.5,185.3 1082.8,218.3 1083.2,251.3 1083.6,265.0 1084.0,251.3 1084.4,218.3 1084.8,185.3 1085.2,171.6 1085.6,186.3 1086.0,221.5 1086.4,256.8 1086.8,271.4 1087.2,259.3 1087.6,230.2 1088.0,201.0 1088.4,188.9 1088.8,205.0 1089.2,244.0 1089.6,282.9 1090.0,299.1 1090.4,283.2 1090.8,244.8 1091.2,206.4 1091.6,190.5 1092.0,205.0 1092.4,239.9 1092.7,274.9 1093.1,289.4 1093.5,276.7 1093.9,246.0 1094.3,215.4 1094.7,202.7 1095.1,212.4 1095.5,235.9 1095.9,259.4 1096.3,269.1 1096.7,254.9 1097.1,220.6 1097.5,186.4 1097.9,172.2 1098.3,190.3 1098.7,234.1 1099.1,277.9 1099.5,296.0 1099.9,280.7 1100.3,243.7 1100.6,206.7 1101.0,191.4 1101.4,203.4 1101.8,232.5 1102.2,261.6 1102.6,273.6 1103.0,260.1 1103.4,227.6 1103.8,195.2 1104.2,181.7 1104.6,197.6 1105.0,235.9 1105.4,274.2 1105.8,290.1 1106.2,272.8 1106.5,230.9 1106.9,189.0 1107.3,171.6 1107.7,186.8 1108.2,223.3 1108.6,259.9 1109.1,275.0 1109.3,258.0 1109.6,216.9 1109.9,175.8 1110.1,158.7" fill="none" stroke="#0000ff" stroke-width="2.35" stroke-linejoin="round" stroke-linecap="round"/>
<line x1="319.1" y1="144.3" x2="319.1" y2="347.5" stroke="#000" stroke-width="1.5" stroke-dasharray="5.1 6.58"/>
<line x1="477.6" y1="144.3" x2="477.6" y2="347.5" stroke="#000" stroke-width="1.5" stroke-dasharray="5.1 6.58"/>
<line x1="636.0" y1="144.3" x2="636.0" y2="347.5" stroke="#000" stroke-width="1.5" stroke-dasharray="5.1 6.58"/>
<line x1="794.5" y1="144.3" x2="794.5" y2="347.5" stroke="#000" stroke-width="1.5" stroke-dasharray="5.1 6.58"/>
<line x1="952.9" y1="144.3" x2="952.9" y2="347.5" stroke="#000" stroke-width="1.5" stroke-dasharray="5.1 6.58"/>
<rect x="161.0" y="136.6" width="950.4" height="210.9" fill="none" stroke="#000" stroke-width="2.3"/>
<path d="M319.1,136.6V117.0M319.1,347.5V367.1M477.6,136.6V117.0M477.6,347.5V367.1M636.0,136.6V117.0M636.0,347.5V367.1M794.5,136.6V117.0M794.5,347.5V367.1M952.9,136.6V117.0M952.9,347.5V367.1M1111.4,136.6V117.0M1111.4,347.5V367.1M161.0,136.6H141.4M1111.4,136.6H1131.0M161.0,171.8H141.4M1111.4,171.8H1131.0M161.0,206.9H141.4M1111.4,206.9H1131.0M161.0,242.0H141.4M1111.4,242.0H1131.0M161.0,277.2H141.4M1111.4,277.2H1131.0M161.0,312.4H141.4M1111.4,312.4H1131.0M161.0,347.5H141.4M1111.4,347.5H1131.0" stroke="#000" stroke-width="2.3" stroke-linecap="round" fill="none"/>
<path d="M192.3,136.6V126.8M192.3,347.5V357.3M224.0,136.6V126.8M224.0,347.5V357.3M255.7,136.6V126.8M255.7,347.5V357.3M287.4,136.6V126.8M287.4,347.5V357.3M350.8,136.6V126.8M350.8,347.5V357.3M382.5,136.6V126.8M382.5,347.5V357.3M414.2,136.6V126.8M414.2,347.5V357.3M445.9,136.6V126.8M445.9,347.5V357.3M509.3,136.6V126.8M509.3,347.5V357.3M540.9,136.6V126.8M540.9,347.5V357.3M572.6,136.6V126.8M572.6,347.5V357.3M604.3,136.6V126.8M604.3,347.5V357.3M667.7,136.6V126.8M667.7,347.5V357.3M699.4,136.6V126.8M699.4,347.5V357.3M731.1,136.6V126.8M731.1,347.5V357.3M762.8,136.6V126.8M762.8,347.5V357.3M826.2,136.6V126.8M826.2,347.5V357.3M857.9,136.6V126.8M857.9,347.5V357.3M889.6,136.6V126.8M889.6,347.5V357.3M921.2,136.6V126.8M921.2,347.5V357.3M984.6,136.6V126.8M984.6,347.5V357.3M1016.3,136.6V126.8M1016.3,347.5V357.3M1048.0,136.6V126.8M1048.0,347.5V357.3M1079.7,136.6V126.8M1079.7,347.5V357.3M161.0,143.6H151.2M1111.4,143.6H1121.2M161.0,150.7H151.2M1111.4,150.7H1121.2M161.0,157.7H151.2M1111.4,157.7H1121.2M161.0,164.7H151.2M1111.4,164.7H1121.2M161.0,178.8H151.2M1111.4,178.8H1121.2M161.0,185.8H151.2M1111.4,185.8H1121.2M161.0,192.8H151.2M1111.4,192.8H1121.2M161.0,199.9H151.2M1111.4,199.9H1121.2M161.0,213.9H151.2M1111.4,213.9H1121.2M161.0,221.0H151.2M1111.4,221.0H1121.2M161.0,228.0H151.2M1111.4,228.0H1121.2M161.0,235.0H151.2M1111.4,235.0H1121.2M161.0,249.1H151.2M1111.4,249.1H1121.2M161.0,256.1H151.2M1111.4,256.1H1121.2M161.0,263.1H151.2M1111.4,263.1H1121.2M161.0,270.2H151.2M1111.4,270.2H1121.2M161.0,284.2H151.2M1111.4,284.2H1121.2M161.0,291.3H151.2M1111.4,291.3H1121.2M161.0,298.3H151.2M1111.4,298.3H1121.2M161.0,305.3H151.2M1111.4,305.3H1121.2M161.0,319.4H151.2M1111.4,319.4H1121.2M161.0,326.4H151.2M1111.4,326.4H1121.2M161.0,333.4H151.2M1111.4,333.4H1121.2M161.0,340.5H151.2M1111.4,340.5H1121.2" stroke="#000" stroke-width="1.3" stroke-linecap="round" fill="none"/>
</g>
<g>
<path d="M162.4,608.4 162.4,620.2 162.4,648.7 162.4,677.3 162.4,689.1 162.8,692.9 163.3,702.1 163.7,711.3 164.2,715.2 164.6,702.0 165.1,670.3 165.5,638.6 166.0,625.4 166.3,639.1 166.7,672.1 167.1,705.1 167.4,718.7 167.7,707.0 168.0,678.8 168.4,650.6 168.7,638.9 169.1,649.5 169.6,675.2 170.0,700.9 170.5,711.6 170.9,700.4 171.4,673.6 171.8,646.8 172.3,635.6 172.6,645.1 173.0,667.8 173.3,690.5 173.7,699.9 174.1,691.0 174.6,669.6 175.0,648.1 175.5,639.2 175.8,648.6 176.1,671.2 176.4,693.8 176.7,703.1 177.3,692.4 177.8,666.3 178.4,640.3 178.9,629.5 179.2,637.3 179.4,655.9 179.7,674.6 180.0,682.3 180.4,672.1 180.9,647.6 181.3,623.0 181.8,612.8 182.2,625.5 182.6,656.2 183.0,686.8 183.4,699.5 183.8,687.7 184.3,659.2 184.7,630.6 185.2,618.8 185.4,631.0 185.7,660.4 186.0,689.9 186.3,702.1 186.8,691.1 187.3,664.6 187.9,638.2 188.4,627.2 188.7,637.7 189.0,663.1 189.4,688.5 189.7,699.0 190.2,686.3 190.7,655.5 191.1,624.7 191.6,611.9 192.0,623.0 192.3,649.8 192.6,676.6 192.9,687.7 193.4,676.9 193.9,650.7 194.4,624.6 194.9,613.7 195.1,625.2 195.4,652.8 195.7,680.4 195.9,691.8 196.4,678.7 196.9,646.9 197.4,615.2 197.9,602.1 198.2,615.7 198.6,648.7 198.9,681.7 199.2,695.4 199.5,679.6 199.9,641.4 200.3,603.2 200.6,587.4 201.1,601.3 201.5,634.8 202.0,668.4 202.4,682.3 202.8,670.9 203.2,643.3 203.6,615.7 204.0,604.2 204.4,615.0 204.7,640.8 205.1,666.7 205.5,677.5 205.8,664.2 206.2,632.1 206.5,600.1 206.9,586.8 207.3,599.9 207.8,631.5 208.2,663.1 208.7,676.2 209.1,662.3 209.5,628.8 209.9,595.3 210.3,581.4 210.7,596.9 211.0,634.2 211.4,671.5 211.7,687.0 212.2,672.8 212.7,638.5 213.2,604.2 213.7,590.1 214.0,604.6 214.3,639.8 214.5,674.9 214.8,689.5 215.3,676.0 215.8,643.5 216.3,611.0 216.8,597.6 217.1,612.0 217.4,646.8 217.7,681.5 218.0,695.9 218.5,682.6 219.0,650.4 219.5,618.1 220.0,604.8 220.3,616.7 220.6,645.6 220.9,674.5 221.3,686.4 221.8,672.3 222.2,638.2 222.7,604.0 223.2,589.9 223.5,606.3 223.9,646.0 224.2,685.6 224.5,702.1 225.0,689.8 225.5,660.1 226.0,630.5 226.5,618.2 226.7,629.1 227.0,655.3 227.3,681.5 227.5,692.4 228.0,679.8 228.5,649.5 229.0,619.1 229.5,606.6 229.8,620.2 230.1,653.1 230.3,685.9 230.6,699.5 231.1,687.0 231.7,656.6 232.2,626.3 232.7,613.7 233.0,625.8 233.3,654.8 233.6,683.9 233.8,695.9 234.4,682.9 234.9,651.4 235.4,620.0 236.0,606.9 236.2,618.3 236.5,645.8 236.8,673.3 237.1,684.6 237.5,671.7 238.0,640.4 238.5,609.1 239.0,596.2 239.3,610.8 239.6,646.2 239.8,681.6 240.1,696.3 240.6,683.5 241.2,652.5 241.7,621.5 242.3,608.7 242.5,618.3 242.8,641.6 243.1,664.8 243.3,674.4 243.8,665.1 244.3,642.7 244.8,620.3 245.3,611.1 245.6,623.6 245.8,653.9 246.1,684.1 246.4,696.7 246.9,682.7 247.5,649.1 248.0,615.5 248.5,601.5 248.8,612.8 249.1,640.1 249.3,667.4 249.6,678.7 250.2,667.2 250.7,639.2 251.2,611.3 251.8,599.7 252.0,611.9 252.3,641.3 252.6,670.7 252.8,682.8 253.3,665.4 253.8,623.2 254.3,581.0 254.8,563.5 255.1,578.6 255.4,615.1 255.8,651.6 256.1,666.7 256.6,657.4 257.1,635.0 257.6,612.6 258.1,603.3 258.4,615.1 258.7,643.4 259.0,671.7 259.3,683.4 259.8,673.4 260.3,649.5 260.8,625.5 261.3,615.5 261.6,627.4 261.9,656.1 262.2,684.8 262.5,696.7 263.0,681.2 263.4,643.7 263.9,606.3 264.3,590.8 264.6,601.2 265.0,626.5 265.3,651.7 265.6,662.2 266.1,653.1 266.6,631.2 267.1,609.4 267.6,600.3 267.9,611.8 268.2,639.5 268.5,667.2 268.8,678.7 269.2,666.7 269.6,637.5 270.0,608.4 270.4,596.3 270.8,606.6 271.2,631.5 271.5,656.4 271.9,666.7 272.3,657.2 272.8,634.1 273.2,611.1 273.7,601.5 274.0,616.9 274.4,653.9 274.7,690.9 275.1,706.2 275.6,690.5 276.0,652.8 276.4,615.0 276.9,599.4 277.3,614.0 277.6,649.2 278.0,684.4 278.3,699.0 278.8,684.4 279.3,649.0 279.8,613.7 280.3,599.0 280.6,611.2 280.8,640.5 281.1,669.8 281.4,681.9 281.9,668.1 282.5,634.6 283.0,601.1 283.5,587.2 283.8,597.4 284.1,622.2 284.3,646.9 284.6,657.2 285.1,642.4 285.6,606.6 286.1,570.8 286.6,555.9 286.9,569.7 287.1,602.8 287.4,635.9 287.7,649.6 288.2,640.4 288.7,618.2 289.3,596.0 289.8,586.8 290.1,602.4 290.4,639.9 290.6,677.5 290.9,693.1 291.4,679.8 292.0,647.6 292.5,615.4 293.1,602.1 293.3,612.5 293.6,637.5 293.9,662.6 294.1,673.0 294.6,662.2 295.1,636.2 295.6,610.2 296.1,599.4 296.4,612.9 296.6,645.6 296.9,678.3 297.2,691.8 297.7,675.7 298.3,636.8 298.8,597.9 299.3,581.8 299.6,596.4 299.9,631.7 300.1,667.0 300.4,681.6 300.9,666.9 301.4,631.5 301.9,596.1 302.4,581.4 302.7,594.8 302.9,627.0 303.2,659.3 303.5,672.6 304.0,660.1 304.5,629.7 305.1,599.4 305.6,586.8 305.9,601.6 306.2,637.3 306.4,672.9 306.7,687.7 307.2,673.7 307.8,639.8 308.3,605.9 308.8,591.8 309.1,603.3 309.4,630.8 309.7,658.3 309.9,669.7 310.5,658.1 311.0,629.9 311.5,601.7 312.1,590.1 312.3,604.3 312.6,638.7 312.9,673.1 313.2,687.3 313.6,675.6 314.1,647.1 314.5,618.7 314.9,606.9 315.3,620.4 315.6,653.0 315.9,685.5 316.2,699.0 316.7,685.9 317.1,654.1 317.6,622.4 318.0,609.3 318.4,622.3 318.7,653.7 319.1,685.1 319.4,698.1 319.9,686.2 320.3,657.5 320.8,628.9 321.2,617.0 321.5,628.7 321.9,657.1 322.2,685.5 322.5,697.2 323.1,684.3 323.7,653.2 324.2,622.1 324.8,609.3 325.0,620.2 325.3,646.7 325.5,673.1 325.7,684.1 326.3,671.0 326.8,639.2 327.3,607.5 327.9,594.4 328.1,608.1 328.4,641.3 328.7,674.5 328.9,688.2 329.5,676.0 330.0,646.5 330.6,617.0 331.1,604.8 331.3,616.5 331.6,645.0 331.8,673.4 332.0,685.2 332.5,672.0 333.1,640.3 333.6,608.6 334.2,595.4 334.4,608.8 334.7,641.2 335.0,673.6 335.2,687.0 335.8,673.8 336.3,642.1 336.8,610.4 337.4,597.2 337.6,608.4 337.8,635.3 338.1,662.2 338.3,673.3 338.8,662.6 339.4,636.8 339.9,611.0 340.4,600.3 340.7,610.7 341.0,635.9 341.2,661.1 341.5,671.5 342.1,662.0 342.6,639.1 343.1,616.1 343.7,606.6 343.9,619.0 344.2,649.2 344.5,679.3 344.7,691.8 345.2,677.3 345.7,642.2 346.2,607.1 346.7,592.6 347.0,606.4 347.3,639.9 347.7,673.5 348.0,687.3 348.5,669.5 349.0,626.3 349.5,583.2 349.9,565.3 350.2,580.7 350.5,618.1 350.8,655.4 351.0,670.8 351.5,656.5 352.0,622.1 352.4,587.6 352.9,573.4 353.3,584.9 353.7,612.8 354.1,640.8 354.5,652.3 355.0,641.4 355.4,615.1 355.9,588.8 356.3,577.8 356.7,592.8 357.1,628.8 357.4,664.9 357.8,679.8 358.2,664.6 358.7,627.9 359.1,591.2 359.6,576.1 359.9,588.0 360.3,616.9 360.6,645.8 361.0,657.7 361.4,644.9 361.9,614.0 362.3,583.1 362.8,570.3 363.2,583.0 363.6,613.6 364.0,644.2 364.4,656.8 364.8,647.8 365.1,625.9 365.5,604.0 365.8,594.9 366.2,606.1 366.6,633.0 366.9,660.0 367.3,671.2 367.7,653.4 368.1,610.3 368.5,567.3 368.9,549.5 369.3,566.8 369.6,608.7 370.0,650.6 370.3,667.9 370.9,654.4 371.4,621.7 371.9,589.0 372.5,575.5 372.8,591.7 373.0,630.7 373.3,669.7 373.6,685.9 374.0,672.0 374.5,638.6 374.9,605.2 375.4,591.3 375.7,603.9 376.1,634.4 376.4,664.8 376.8,677.5 377.2,662.0 377.7,624.7 378.1,587.4 378.6,571.9 378.9,586.9 379.3,623.2 379.7,659.4 380.0,674.4 380.4,661.5 380.8,630.4 381.2,599.3 381.6,586.5 382.0,601.4 382.4,637.3 382.7,673.3 383.1,688.2 383.5,674.3 383.9,640.7 384.3,607.0 384.7,593.1 385.1,607.6 385.5,642.7 385.9,677.8 386.3,692.4 386.7,677.3 387.1,640.9 387.5,604.6 387.9,589.5 388.3,601.7 388.7,631.1 389.1,660.4 389.5,672.6 389.9,660.3 390.3,630.4 390.8,600.6 391.2,588.3 391.6,600.3 392.0,629.3 392.4,658.3 392.8,670.3 393.2,657.5 393.6,626.8 394.0,596.0 394.4,583.2 394.7,596.6 395.1,629.0 395.5,661.4 395.8,674.8 396.3,663.4 396.7,636.0 397.2,608.6 397.6,597.2 398.0,610.2 398.3,641.4 398.7,672.6 399.1,685.5 399.4,670.8 399.8,635.1 400.1,599.4 400.5,584.7 400.9,599.6 401.3,635.6 401.7,671.5 402.1,686.4 402.6,673.3 403.0,641.6 403.4,609.8 403.9,596.7 404.3,611.1 404.6,646.1 405.0,681.0 405.3,695.4 405.8,684.8 406.2,659.1 406.7,633.4 407.1,622.7 407.5,633.9 407.8,660.9 408.2,687.8 408.6,699.0 409.0,684.5 409.4,649.6 409.8,614.7 410.2,600.3 410.5,613.7 410.9,646.1 411.3,678.4 411.6,691.8 412.1,675.8 412.5,637.3 413.0,598.7 413.4,582.7 413.8,595.9 414.1,627.8 414.5,659.8 414.8,673.0 415.2,660.6 415.7,630.6 416.1,600.7 416.5,588.3 416.9,600.8 417.3,631.1 417.7,661.3 418.1,673.9 418.5,662.3 418.9,634.4 419.3,606.5 419.7,594.9 420.1,606.5 420.4,634.4 420.8,662.3 421.1,673.9 421.6,660.6 422.0,628.6 422.5,596.5 422.9,583.2 423.3,596.2 423.6,627.4 424.0,658.6 424.4,671.5 424.8,663.7 425.2,644.6 425.6,625.6 426.0,617.7 426.4,627.8 426.8,652.1 427.2,676.4 427.6,686.4 428.0,675.9 428.4,650.5 428.8,625.2 429.2,614.6 429.6,626.7 429.9,655.9 430.3,685.1 430.6,697.2 431.1,683.8 431.5,651.4 432.0,619.1 432.4,605.7 432.8,620.0 433.2,654.8 433.5,689.5 433.9,703.8 434.3,689.0 434.7,653.2 435.1,617.4 435.5,602.6 435.9,615.5 436.3,646.6 436.7,677.7 437.1,690.6 437.5,676.1 437.9,641.2 438.3,606.3 438.7,591.8 439.1,606.5 439.4,641.8 439.8,677.2 440.2,691.8 440.6,676.3 441.1,638.9 441.5,601.4 441.9,585.9 442.3,599.4 442.7,632.0 443.0,664.5 443.4,678.0 443.8,664.0 444.2,630.3 444.6,596.6 445.0,582.7 445.4,596.3 445.8,629.2 446.2,662.1 446.6,675.7 447.0,665.0 447.4,639.3 447.8,613.6 448.2,603.0 448.6,614.8 448.9,643.4 449.3,671.9 449.7,683.7 450.1,669.5 450.6,635.3 451.0,601.0 451.5,586.8 451.8,600.3 452.2,632.8 452.5,665.3 452.9,678.7 453.3,666.6 453.8,637.3 454.2,607.9 454.7,595.8 455.1,608.1 455.4,638.0 455.8,667.8 456.1,680.2 456.5,666.3 456.9,632.9 457.3,599.4 457.7,585.6 458.1,598.2 458.5,628.8 458.8,659.4 459.2,672.1 459.6,664.1 460.1,644.9 460.5,625.7 461.0,617.7 461.3,627.6 461.7,651.6 462.1,675.6 462.4,685.5 462.8,673.9 463.2,645.9 463.6,617.8 464.0,606.2 464.4,620.8 464.7,656.2 465.1,691.5 465.5,706.2 465.9,692.2 466.4,658.6 466.8,625.0 467.3,611.1 467.6,622.8 468.0,651.2 468.3,679.5 468.7,691.3 469.1,677.1 469.6,642.9 470.0,608.7 470.5,594.5 470.8,609.9 471.1,647.0 471.4,684.2 471.7,699.5 472.2,687.6 472.6,658.6 473.1,629.7 473.5,617.7 473.9,630.9 474.3,662.8 474.6,694.8 475.0,708.0 475.4,695.4 475.8,664.9 476.2,634.4 476.6,621.8 476.9,632.9 477.3,659.8 477.7,686.6 478.0,697.7 478.5,686.1 478.9,658.0 479.4,629.9 479.8,618.2 480.2,628.7 480.5,654.1 480.9,679.5 481.3,690.0 481.7,673.3 482.2,633.0 482.6,592.7 483.1,576.1 483.4,587.9 483.7,616.6 484.0,645.3 484.3,657.2 484.8,645.2 485.3,616.4 485.8,587.6 486.3,575.7 486.6,588.0 486.8,617.6 487.1,647.2 487.4,659.5 487.9,649.5 488.4,625.4 489.0,601.3 489.5,591.3 489.8,605.6 490.1,640.2 490.3,674.8 490.6,689.1 491.1,677.6 491.6,649.8 492.1,622.0 492.6,610.5 492.9,623.5 493.2,654.8 493.5,686.0 493.8,699.0 494.3,688.0 494.8,661.3 495.3,634.7 495.8,623.6 496.1,635.4 496.4,663.7 496.7,692.1 497.1,703.8 497.5,694.0 497.9,670.3 498.4,646.5 498.8,636.7 499.2,647.3 499.5,672.8 499.8,698.3 500.1,708.9 500.6,697.0 501.1,668.5 501.6,639.9 502.1,628.1 502.3,640.9 502.6,671.9 502.9,702.9 503.2,715.7 503.6,701.2 504.1,666.2 504.6,631.3 505.1,616.8 505.4,628.6 505.8,657.0 506.1,685.4 506.4,697.2 506.8,686.6 507.3,661.0 507.7,635.5 508.2,624.9 508.5,636.4 508.9,664.2 509.3,692.0 509.6,703.5 510.1,692.3 510.5,665.3 511.0,638.4 511.4,627.2 511.7,637.3 512.0,661.6 512.4,685.9 512.7,695.9 513.2,689.2 513.7,672.8 514.1,656.4 514.6,649.6 515.0,658.4 515.3,679.7 515.6,701.0 515.9,709.8 516.4,696.9 516.9,665.8 517.4,634.7 517.9,621.8 518.2,633.0 518.5,660.0 518.8,686.9 519.1,698.1 519.6,686.9 520.1,659.8 520.6,632.7 521.1,621.5 521.4,633.6 521.7,662.9 522.0,692.2 522.4,704.4 522.9,694.5 523.3,670.6 523.8,646.6 524.3,636.7 524.6,644.9 524.9,664.5 525.1,684.2 525.4,692.4 525.9,681.2 526.4,654.2 526.9,627.2 527.4,616.1 527.7,629.4 528.0,661.6 528.3,693.8 528.6,707.1 529.1,694.1 529.6,662.9 530.1,631.7 530.6,618.8 530.9,631.4 531.2,661.8 531.6,692.3 531.9,704.9 532.4,692.4 532.9,662.2 533.4,632.0 533.8,619.5 534.2,629.9 534.5,655.2 534.8,680.5 535.1,690.9 535.6,679.9 536.0,653.4 536.4,626.9 536.9,615.9 537.3,623.1 537.6,640.4 538.0,657.7 538.3,664.9 538.8,653.5 539.2,625.9 539.7,598.3 540.1,586.8 540.4,601.0 540.8,635.1 541.1,669.2 541.4,683.4 541.9,671.1 542.3,641.4 542.8,611.7 543.3,599.4 543.6,611.9 543.9,642.0 544.2,672.2 544.5,684.6 545.0,671.3 545.4,639.1 545.9,607.0 546.3,593.6 546.7,604.3 547.1,630.2 547.4,656.0 547.8,666.7 548.2,654.1 548.7,623.8 549.1,593.5 549.6,580.9 549.9,596.0 550.3,632.5 550.6,669.0 551.0,684.1 551.4,673.7 551.9,648.5 552.3,623.3 552.8,612.8 553.2,624.8 553.5,653.7 553.9,682.6 554.2,694.5 554.6,681.2 555.0,648.9 555.4,616.7 555.8,603.3 556.2,616.0 556.6,646.7 556.9,677.3 557.3,690.0 557.7,677.9 558.2,648.7 558.6,619.6 559.1,607.5 559.4,618.6 559.8,645.4 560.2,672.3 560.5,683.4 561.0,670.2 561.4,638.5 561.9,606.8 562.3,593.6 562.7,607.3 563.0,640.3 563.4,673.3 563.7,687.0 564.1,673.2 564.5,640.0 564.8,606.8 565.2,593.1 565.6,609.1 566.0,647.6 566.4,686.1 566.8,702.1 567.2,690.4 567.6,662.2 568.0,634.0 568.4,622.4 568.8,630.8 569.2,651.3 569.6,671.7 570.0,680.2 570.4,668.1 570.7,639.1 571.1,610.0 571.5,597.9 571.9,613.5 572.4,650.9 572.8,688.3 573.3,703.8 573.6,692.7 574.0,665.8 574.3,638.9 574.7,627.7 575.1,638.4 575.6,664.3 576.0,690.1 576.5,700.8 576.8,688.2 577.2,657.7 577.6,627.3 577.9,614.6 578.3,626.9 578.7,656.6 579.1,686.2 579.5,698.5 579.9,685.5 580.3,654.3 580.8,623.1 581.2,610.2 581.5,624.7 581.9,660.0 582.2,695.2 582.6,709.8 583.0,697.7 583.5,668.5 583.9,639.3 584.4,627.2 584.7,636.9 585.1,660.1 585.5,683.4 585.8,693.1 586.3,680.1 586.7,648.9 587.2,617.7 587.6,604.8 588.0,617.9 588.3,649.6 588.7,681.4 589.1,694.5 589.5,681.1 589.9,648.7 590.3,616.4 590.7,603.0 591.0,617.2 591.4,651.4 591.7,685.7 592.1,699.9 592.5,687.9 592.9,659.1 593.3,630.2 593.7,618.2 594.1,629.5 594.5,656.8 594.9,684.1 595.3,695.4 595.7,685.6 596.1,661.8 596.5,638.0 596.9,628.1 597.4,636.5 597.8,656.8 598.2,677.1 598.6,685.5 599.0,677.9 599.4,659.3 599.8,640.8 600.2,633.1 600.5,642.3 600.9,664.5 601.3,686.7 601.6,695.9 602.1,682.5 602.5,650.2 603.0,617.8 603.4,604.4 603.8,620.7 604.1,660.1 604.5,699.4 604.8,715.7 605.2,701.2 605.7,666.1 606.1,631.0 606.5,616.4 606.9,627.9 607.3,655.7 607.7,683.4 608.1,694.9 608.5,680.5 608.9,645.8 609.3,611.1 609.7,596.7 610.1,608.3 610.4,636.4 610.8,664.6 611.1,676.2 611.6,665.0 612.0,637.8 612.5,610.6 612.9,599.4 613.3,613.8 613.6,648.6 614.0,683.3 614.4,697.7 614.8,686.0 615.2,657.5 615.6,629.1 616.0,617.3 616.4,627.6 616.8,652.5 617.2,677.4 617.6,687.7 618.0,673.0 618.4,637.4 618.8,601.9 619.2,587.2 619.6,600.8 620.0,633.7 620.4,666.5 620.8,680.2 621.2,667.1 621.5,635.7 621.9,604.3 622.3,591.3 622.7,606.6 623.2,643.4 623.6,680.2 624.1,695.4 624.4,683.2 624.7,653.9 625.0,624.5 625.3,612.3 625.8,621.2 626.2,642.6 626.7,664.1 627.1,673.0 627.5,661.5 627.9,633.9 628.3,606.3 628.7,594.9 629.1,606.7 629.5,635.3 629.9,663.8 630.3,675.7 630.7,662.5 631.1,630.6 631.5,598.8 631.9,585.6 632.4,601.9 632.8,641.4 633.2,680.9 633.6,697.2 634.0,686.6 634.4,660.9 634.8,635.2 635.2,624.5 635.4,637.3 635.7,668.3 636.0,699.3 636.3,712.1 636.8,700.5 637.3,672.3 637.9,644.2 638.4,632.6 638.6,641.7 638.9,663.7 639.1,685.8 639.3,694.9 639.8,684.0 640.4,657.9 640.9,631.8 641.5,620.9 641.7,629.4 642.0,649.8 642.3,670.3 642.5,678.7 643.0,664.6 643.4,630.5 643.9,596.4 644.3,582.3 644.7,594.4 645.1,623.6 645.4,652.8 645.8,664.9 646.2,655.2 646.7,631.7 647.1,608.2 647.6,598.5 647.9,609.3 648.3,635.6 648.6,661.8 649.0,672.6 649.4,662.5 649.9,638.2 650.3,613.9 650.8,603.9 651.2,616.1 651.5,645.6 651.9,675.1 652.2,687.3 652.7,673.3 653.1,639.5 653.6,605.7 654.0,591.7 654.4,606.1 654.7,640.8 655.1,675.6 655.5,690.0 655.8,675.6 656.2,640.7 656.5,605.8 656.9,591.3 657.3,602.0 657.8,627.8 658.2,653.7 658.7,664.4 659.1,655.2 659.4,633.2 659.8,611.2 660.1,602.1 660.6,616.0 661.0,649.6 661.5,683.3 661.9,697.2 662.3,684.7 662.6,654.4 663.0,624.1 663.4,611.6 663.8,623.5 664.2,652.3 664.6,681.1 665.0,693.1 665.4,680.3 665.8,649.4 666.2,618.5 666.6,605.7 667.0,614.9 667.4,637.3 667.8,659.7 668.2,669.0 668.6,659.5 669.0,636.6 669.4,613.7 669.8,604.2 670.2,615.0 670.5,641.1 670.9,667.2 671.3,678.0 671.7,667.5 672.2,642.3 672.6,617.0 673.1,606.6 673.4,618.8 673.8,648.3 674.1,677.8 674.5,690.0 674.9,677.1 675.4,645.8 675.8,614.5 676.3,601.5 676.6,614.1 676.9,644.4 677.2,674.8 677.5,687.3 678.0,672.4 678.4,636.4 678.9,600.5 679.3,585.6 679.6,599.9 680.0,634.7 680.3,669.4 680.6,683.7 681.1,671.1 681.6,640.5 682.1,609.9 682.6,597.2 682.9,612.4 683.2,649.0 683.5,685.6 683.8,700.8 684.3,687.3 684.8,654.6 685.3,621.9 685.8,608.4 686.1,620.3 686.4,649.2 686.7,678.1 687.1,690.0 687.5,671.4 688.0,626.6 688.5,581.7 689.0,563.1 689.3,577.6 689.7,612.5 690.0,647.4 690.3,661.8 690.8,650.9 691.3,624.5 691.8,598.1 692.3,587.2 692.6,601.2 692.9,635.0 693.2,668.8 693.5,682.8 694.0,666.3 694.4,626.3 694.9,586.3 695.3,569.8 695.7,585.5 696.0,623.6 696.4,661.7 696.7,677.5 697.2,665.4 697.6,636.4 698.1,607.3 698.5,595.3 698.9,605.3 699.2,629.4 699.5,653.6 699.8,663.6 700.3,654.5 700.8,632.4 701.3,610.3 701.8,601.2 702.1,612.9 702.4,641.1 702.7,669.4 703.0,681.1 703.5,665.0 704.0,626.1 704.5,587.3 705.0,571.2 705.3,586.8 705.6,624.3 705.9,661.9 706.3,677.5 706.7,666.9 707.2,641.6 707.6,616.2 708.1,605.7 708.4,618.5 708.7,649.6 709.0,680.7 709.3,693.6 709.8,678.6 710.3,642.3 710.8,606.0 711.3,590.9 711.6,603.8 711.9,634.8 712.2,665.9 712.5,678.7 713.0,665.7 713.4,634.1 713.9,602.6 714.3,589.5 714.7,602.0 715.1,632.1 715.4,662.3 715.8,674.8 716.2,658.6 716.6,619.6 717.0,580.6 717.4,564.4 717.7,580.8 718.1,620.3 718.5,659.8 718.8,676.2 719.2,662.1 719.6,628.1 720.0,594.1 720.4,580.0 720.8,593.4 721.2,625.6 721.6,657.8 722.1,671.2 722.5,659.2 722.9,630.3 723.3,601.5 723.7,589.5 724.1,603.3 724.5,636.6 724.9,669.9 725.3,683.7 725.7,669.5 726.1,635.3 726.5,601.0 726.9,586.8 727.3,603.0 727.7,642.0 728.1,681.0 728.5,697.2 728.9,683.7 729.3,651.2 729.7,618.6 730.1,605.1 730.5,616.9 730.8,645.3 731.2,673.8 731.6,685.5 731.7,686.3 731.8,688.2 731.9,690.1 732.0,690.9 732.4,678.2 732.8,647.4 733.2,616.6 733.6,603.9 733.9,618.7 734.2,654.4 734.4,690.1 734.7,704.9 735.3,691.0 735.8,657.4 736.3,623.7 736.9,609.8 737.1,621.7 737.3,650.5 737.5,679.3 737.8,691.3 738.3,678.5 738.8,647.6 739.4,616.7 739.9,603.9 740.2,615.8 740.5,644.7 740.7,673.6 741.0,685.5 741.5,672.3 742.1,640.5 742.6,608.6 743.2,595.4 743.4,609.8 743.7,644.5 744.0,679.2 744.2,693.6 744.7,679.8 745.2,646.5 745.7,613.2 746.2,599.4 746.5,609.9 746.7,635.3 747.0,660.7 747.3,671.2 747.8,656.8 748.4,622.0 748.9,587.2 749.4,572.8 749.7,588.1 750.0,625.1 750.2,662.1 750.5,677.5 751.1,662.9 751.6,627.7 752.1,592.4 752.7,577.8 752.9,589.8 753.2,618.7 753.5,647.6 753.7,659.5 754.2,649.8 754.7,626.3 755.2,602.8 755.7,593.1 756.0,606.3 756.3,638.2 756.7,670.2 757.0,683.4 757.5,672.3 758.0,645.7 758.5,619.0 758.9,608.0 759.3,622.8 759.6,658.6 759.9,694.4 760.2,709.2 760.7,697.1 761.1,667.9 761.6,638.8 762.0,626.7 762.3,637.1 762.6,662.2 762.9,687.3 763.3,697.7 763.7,683.7 764.2,649.9 764.6,616.1 765.1,602.1 765.4,613.8 765.8,642.0 766.1,670.3 766.5,681.9 766.9,669.5 767.4,639.3 767.8,609.2 768.3,596.7 768.6,608.0 769.0,635.3 769.4,662.6 769.7,673.9 770.2,662.0 770.6,633.5 771.1,604.9 771.5,593.1 771.9,606.8 772.2,639.8 772.6,672.8 772.9,686.4 773.4,672.1 773.8,637.3 774.3,602.6 774.7,588.3 775.1,602.0 775.4,635.3 775.7,668.5 776.0,682.3 776.5,667.8 777.0,632.8 777.5,597.7 778.0,583.2 778.3,599.7 778.6,639.6 778.9,679.4 779.2,695.9 779.6,682.2 780.0,649.0 780.4,615.8 780.8,602.1 781.2,613.8 781.6,642.2 781.9,670.6 782.3,682.3 782.7,672.1 783.2,647.3 783.6,622.6 784.1,612.3 784.4,622.5 784.8,646.9 785.2,671.4 785.5,681.6 786.0,669.9 786.4,641.6 786.9,613.3 787.3,601.5 787.6,615.2 787.9,648.0 788.2,680.9 788.6,694.5 789.0,676.2 789.5,632.1 789.9,588.0 790.4,569.8 790.7,586.6 791.1,627.2 791.4,667.8 791.8,684.6 792.3,670.9 792.8,637.7 793.3,604.5 793.8,590.8 794.1,603.5 794.4,634.1 794.7,664.8 795.0,677.5 795.5,666.0 795.9,638.4 796.4,610.8 796.8,599.4 797.2,613.2 797.5,646.5 797.9,679.8 798.3,693.6 798.7,681.4 799.1,652.1 799.5,622.7 799.9,610.5 800.2,623.9 800.6,656.3 800.9,688.6 801.3,702.1 801.8,690.0 802.2,661.0 802.7,632.0 803.1,620.0 803.5,629.8 803.8,653.2 804.2,676.7 804.5,686.4 805.0,674.0 805.4,644.0 805.9,614.0 806.3,601.5 806.7,612.7 807.1,639.5 807.4,666.3 807.8,677.5 808.2,668.4 808.7,646.7 809.1,624.9 809.6,615.9 809.9,627.4 810.2,655.2 810.5,683.0 810.8,694.5 811.3,680.1 811.7,645.2 812.2,610.3 812.6,595.8 813.0,611.4 813.3,649.2 813.7,686.9 814.1,702.6 814.5,689.3 814.9,657.3 815.4,625.2 815.8,611.9 816.2,624.7 816.6,655.5 816.9,686.3 817.3,699.0 817.7,687.8 818.1,660.9 818.5,633.9 818.9,622.7 819.3,634.2 819.6,661.8 820.0,689.4 820.3,700.8 820.8,689.5 821.2,662.2 821.7,634.9 822.1,623.6 822.5,632.6 822.8,654.1 823.2,675.7 823.6,684.6 824.0,671.2 824.4,638.6 824.8,606.0 825.2,592.6 825.6,605.1 826.0,635.3 826.4,665.5 826.8,678.0 827.2,663.8 827.6,629.5 828.0,595.3 828.4,581.1 828.8,598.7 829.1,641.4 829.5,684.0 829.8,701.7 830.2,690.9 830.7,664.7 831.1,638.6 831.5,627.7 831.9,638.3 832.3,663.6 832.7,689.0 833.1,699.5 833.5,688.7 833.9,662.5 834.3,636.3 834.7,625.4 835.1,635.7 835.5,660.7 835.9,685.6 836.3,695.9 836.7,683.9 837.0,654.8 837.4,625.8 837.7,613.7 838.1,626.8 838.6,658.2 839.0,689.6 839.4,702.6 839.8,692.7 840.2,668.8 840.6,644.8 841.0,634.9 841.4,643.5 841.8,664.3 842.2,685.0 842.6,693.6 843.0,680.8 843.4,649.8 843.8,618.9 844.2,606.0 844.6,618.9 844.9,649.8 845.3,680.8 845.6,693.6 846.0,681.6 846.4,652.5 846.9,623.4 847.3,611.4 847.7,623.2 848.1,651.6 848.5,680.0 848.9,691.8 849.3,683.3 849.7,662.8 850.1,642.3 850.5,633.8 850.9,642.9 851.3,664.9 851.7,686.9 852.1,695.9 852.5,686.9 852.9,664.9 853.3,642.9 853.7,633.8 854.1,643.2 854.4,665.8 854.8,688.4 855.2,697.7 855.6,686.3 856.0,658.6 856.4,630.9 856.8,619.5 857.2,633.8 857.6,668.2 858.0,702.7 858.4,716.9 858.8,708.1 859.2,686.7 859.6,665.3 860.0,656.5 860.4,663.5 860.8,680.4 861.2,697.4 861.6,704.4 862.1,692.4 862.5,663.6 863.0,634.7 863.4,622.7 863.8,633.9 864.1,660.9 864.5,687.8 864.8,699.0 865.2,690.9 865.7,671.2 866.1,651.5 866.5,643.4 866.8,653.5 867.2,677.9 867.5,702.3 867.9,712.5 868.3,700.6 868.8,672.1 869.2,643.5 869.7,631.7 870.1,640.0 870.4,660.0 870.8,680.0 871.1,688.2 871.5,678.2 871.9,654.1 872.3,630.0 872.7,620.0 873.1,632.6 873.5,663.1 873.8,693.6 874.2,706.2 874.6,695.9 875.1,671.2 875.5,646.4 876.0,636.2 876.3,646.2 876.7,670.3 877.1,694.4 877.4,704.4 877.9,693.8 878.3,668.2 878.8,642.6 879.2,632.1 879.6,642.1 879.9,666.4 880.3,690.7 880.6,700.8 881.1,689.1 881.5,660.9 882.0,632.6 882.4,620.9 882.8,628.8 883.2,647.7 883.5,666.6 883.9,674.4 884.2,665.3 884.6,643.4 884.9,621.4 885.3,612.3 885.8,624.7 886.2,654.8 886.7,684.8 887.1,697.2 887.5,682.9 887.8,648.3 888.2,613.7 888.5,599.4 889.0,611.3 889.4,640.2 889.9,669.1 890.3,681.1 890.7,669.5 891.1,641.6 891.4,613.6 891.8,602.1 892.2,615.4 892.6,647.4 893.0,679.4 893.4,692.7 893.8,682.3 894.2,657.3 894.6,632.2 895.0,621.8 895.4,634.6 895.8,665.3 896.2,696.1 896.6,708.9 897.0,696.5 897.3,666.7 897.7,636.9 898.1,624.5 898.5,634.4 898.9,658.2 899.4,682.0 899.8,691.8 900.2,681.5 900.6,656.6 900.9,631.6 901.3,621.3 901.7,632.3 902.1,658.8 902.5,685.3 902.9,696.3 903.3,685.4 903.7,659.1 904.1,632.7 904.5,621.8 904.9,633.3 905.3,660.9 905.7,688.5 906.1,699.9 906.5,688.5 906.8,660.9 907.2,633.3 907.6,621.8 908.0,632.8 908.5,659.2 908.9,685.7 909.4,696.7 909.7,682.6 910.1,648.7 910.4,614.9 910.8,600.8 911.2,615.9 911.6,652.3 912.0,688.8 912.4,703.8 912.8,692.8 913.2,666.2 913.6,639.5 914.0,628.5 914.4,639.1 914.8,664.6 915.2,690.2 915.6,700.8 916.0,687.2 916.4,654.4 916.9,621.6 917.3,608.0 917.7,621.1 918.1,652.6 918.5,684.1 918.9,697.2 919.3,684.6 919.7,654.1 920.1,623.7 920.5,611.1 920.9,620.6 921.3,643.8 921.6,667.0 922.0,676.6 922.4,664.2 922.8,634.4 923.2,604.6 923.6,592.2 924.0,606.0 924.4,639.3 924.7,672.6 925.1,686.4 925.5,673.0 926.0,640.4 926.4,607.8 926.9,594.4 927.2,607.8 927.5,640.4 927.8,673.0 928.1,686.4 928.6,671.0 929.0,633.8 929.5,596.5 929.9,581.1 930.3,596.5 930.6,633.8 931.0,671.0 931.4,686.4 931.8,670.3 932.3,631.5 932.7,592.7 933.2,576.6 933.5,588.1 933.8,615.8 934.1,643.5 934.4,655.0 934.8,644.6 935.2,619.3 935.6,594.1 936.0,583.6 936.4,598.8 936.8,635.6 937.2,672.4 937.6,687.7 938.0,672.7 938.4,636.6 938.9,600.5 939.3,585.6 939.7,598.2 940.1,628.8 940.5,659.4 940.9,672.1 941.3,662.5 941.7,639.5 942.1,616.5 942.5,606.9 942.8,620.1 943.2,652.1 943.6,684.0 943.9,697.2 944.4,684.1 944.8,652.3 945.3,620.6 945.7,607.5 946.1,620.9 946.4,653.5 946.8,686.1 947.2,699.5 947.6,685.6 948.1,652.0 948.5,618.3 948.9,604.4 949.3,617.9 949.7,650.5 950.0,683.2 950.4,696.7 950.8,683.2 951.3,650.5 951.7,617.9 952.2,604.4 952.5,616.0 952.9,643.9 953.3,671.8 953.6,683.4 954.0,669.7 954.4,636.7 954.8,603.7 955.2,590.1 955.6,604.5 955.9,639.4 956.3,674.3 956.7,688.8 957.1,676.8 957.6,647.8 958.0,618.9 958.5,606.9 958.8,618.8 959.2,647.3 959.5,675.9 959.9,687.7 960.3,675.8 960.8,647.1 961.2,618.4 961.7,606.6 962.1,621.0 962.4,655.7 962.8,690.5 963.1,704.9 963.5,687.4 963.9,645.0 964.3,602.6 964.7,585.0 965.1,599.7 965.5,635.1 965.8,670.5 966.2,685.2 966.6,673.3 967.1,644.5 967.5,615.8 968.0,603.9 968.3,616.8 968.7,647.8 969.1,678.9 969.4,691.8 969.9,676.7 970.3,640.2 970.8,603.7 971.2,588.6 971.6,600.5 971.9,629.2 972.3,657.9 972.6,669.7 973.1,658.3 973.5,630.5 974.0,602.8 974.4,591.3 974.7,607.2 975.0,645.6 975.2,684.0 975.5,699.9 976.1,687.0 976.6,655.9 977.1,624.8 977.7,611.9 978.0,623.3 978.3,650.5 978.6,677.8 978.9,689.1 979.4,674.0 979.8,637.5 980.3,601.0 980.7,585.9 981.0,600.8 981.3,636.6 981.7,672.5 982.0,687.3 982.5,669.8 983.0,627.5 983.5,585.1 983.9,567.6 984.3,583.8 984.6,622.8 984.9,661.8 985.2,678.0 985.7,663.1 986.2,627.2 986.7,591.3 987.2,576.4 987.5,588.8 987.8,618.9 988.1,648.9 988.4,661.3 988.9,652.8 989.3,632.1 989.8,611.5 990.2,603.0 990.5,614.2 990.9,641.4 991.2,668.5 991.5,679.8 992.0,667.5 992.5,637.8 993.0,608.1 993.5,595.8 993.8,610.0 994.1,644.4 994.4,678.8 994.7,693.1 995.2,679.6 995.6,647.1 996.1,614.6 996.5,601.2 996.8,616.1 997.1,652.2 997.5,688.2 997.8,703.1 998.3,690.8 998.8,661.1 999.2,631.4 999.7,619.1 1000.1,629.1 1000.4,653.1 1000.7,677.0 1001.0,687.0 1001.4,675.7 1001.9,648.4 1002.3,621.1 1002.8,609.8 1003.2,622.6 1003.5,653.5 1003.9,684.4 1004.2,697.2 1004.7,685.1 1005.1,655.9 1005.6,626.7 1006.0,614.6 1006.3,627.8 1006.7,659.5 1007.0,691.2 1007.3,704.4 1007.8,693.0 1008.3,665.3 1008.8,637.7 1009.3,626.3 1009.6,636.5 1009.9,661.1 1010.2,685.8 1010.5,695.9 1011.0,683.6 1011.5,653.8 1012.0,623.9 1012.5,611.6 1012.8,624.2 1013.1,654.7 1013.4,685.1 1013.7,697.7 1014.2,683.0 1014.6,647.5 1015.1,612.0 1015.5,597.2 1015.9,612.6 1016.2,649.6 1016.5,686.7 1016.8,702.1 1017.3,689.1 1017.8,657.9 1018.3,626.7 1018.8,613.7 1019.1,624.9 1019.4,651.9 1019.7,678.9 1020.0,690.0 1020.5,677.8 1021.0,648.3 1021.5,618.8 1022.0,606.6 1022.3,619.4 1022.6,650.4 1022.9,681.3 1023.3,694.2 1023.7,680.6 1024.2,647.8 1024.6,615.1 1025.1,601.5 1025.4,613.4 1025.7,641.9 1026.0,670.5 1026.3,682.3 1026.7,668.3 1027.1,634.4 1027.5,600.5 1027.9,586.5 1028.3,603.5 1028.7,644.8 1029.1,686.0 1029.5,703.1 1030.0,688.2 1030.4,652.2 1030.9,616.1 1031.3,601.2 1031.7,614.6 1032.1,646.9 1032.4,679.3 1032.8,692.7 1033.2,677.8 1033.7,641.7 1034.1,605.7 1034.6,590.8 1034.9,605.0 1035.3,639.2 1035.6,673.5 1036.0,687.7 1036.4,675.6 1036.9,646.4 1037.3,617.2 1037.8,605.1 1038.2,618.5 1038.5,650.9 1038.9,683.3 1039.2,696.7 1039.7,684.3 1040.1,654.5 1040.6,624.7 1041.0,612.3 1041.4,622.6 1041.7,647.3 1042.1,672.1 1042.5,682.3 1042.9,669.4 1043.3,638.2 1043.7,606.9 1044.1,594.0 1044.4,605.6 1044.8,633.7 1045.2,661.7 1045.5,673.3 1046.0,659.3 1046.4,625.4 1046.9,591.5 1047.3,577.5 1047.7,590.7 1048.0,622.7 1048.4,654.7 1048.7,667.9 1049.1,656.2 1049.6,627.8 1050.0,599.5 1050.4,587.7 1050.8,602.0 1051.2,636.4 1051.6,670.9 1052.0,685.2 1052.3,670.0 1052.7,633.5 1053.1,596.9 1053.4,581.8 1053.8,595.9 1054.2,629.9 1054.6,663.9 1055.0,678.0 1055.4,664.5 1055.8,632.0 1056.2,599.4 1056.6,585.9 1057.0,601.0 1057.4,637.5 1057.9,674.0 1058.3,689.1 1058.7,676.3 1059.1,645.3 1059.5,614.4 1059.9,601.5 1060.3,615.8 1060.7,650.3 1061.1,684.7 1061.5,699.0 1061.9,685.2 1062.3,651.9 1062.7,618.6 1063.1,604.8 1063.5,616.8 1063.8,645.9 1064.2,674.9 1064.5,687.0 1064.9,671.7 1065.3,634.7 1065.8,597.7 1066.2,582.3 1066.6,594.0 1067.0,622.1 1067.4,650.2 1067.8,661.8 1068.2,647.5 1068.6,612.8 1069.0,578.2 1069.4,563.8 1069.8,577.9 1070.2,611.9 1070.6,646.0 1071.0,660.1 1071.4,646.8 1071.8,614.9 1072.2,583.0 1072.6,569.8 1073.0,584.8 1073.3,621.2 1073.7,657.6 1074.1,672.6 1074.5,661.1 1074.9,633.3 1075.3,605.5 1075.7,594.0 1076.1,606.9 1076.5,638.0 1076.9,669.1 1077.3,681.9 1077.7,668.4 1078.1,635.7 1078.5,603.0 1078.9,589.5 1079.3,604.4 1079.7,640.4 1080.1,676.4 1080.5,691.3 1080.9,674.5 1081.3,633.9 1081.7,593.4 1082.1,576.6 1082.5,590.6 1082.8,624.3 1083.2,658.1 1083.6,672.1 1084.0,658.1 1084.4,624.3 1084.8,590.6 1085.2,576.6 1085.6,593.5 1086.0,634.2 1086.4,674.9 1086.8,691.8 1087.2,678.9 1087.6,647.6 1088.0,616.3 1088.4,603.3 1088.8,617.5 1089.2,651.6 1089.6,685.8 1090.0,699.9 1090.4,684.4 1090.8,647.1 1091.2,609.8 1091.6,594.4 1092.0,609.0 1092.4,644.3 1092.7,679.5 1093.1,694.2 1093.5,681.5 1093.9,651.0 1094.3,620.5 1094.7,607.8 1095.1,620.1 1095.5,649.8 1095.9,679.5 1096.3,691.8 1096.7,675.6 1097.1,636.4 1097.5,597.3 1097.9,581.1 1098.3,597.4 1098.7,636.9 1099.1,676.4 1099.5,692.7 1099.9,678.0 1100.3,642.5 1100.6,606.9 1101.0,592.2 1101.4,604.8 1101.8,635.1 1102.2,665.4 1102.6,678.0 1103.0,665.3 1103.4,634.7 1103.8,604.0 1104.2,591.3 1104.6,605.5 1105.0,639.8 1105.4,674.0 1105.8,688.2 1106.2,672.3 1106.5,633.8 1106.9,595.2 1107.3,579.3 1107.7,593.2 1108.2,626.8 1108.6,660.5 1109.1,674.4 1109.3,657.2 1109.6,615.8 1109.9,574.4 1110.1,557.2" fill="none" stroke="#0000ff" stroke-width="2.35" stroke-linejoin="round" stroke-linecap="round"/>
<line x1="319.1" y1="538.5" x2="319.1" y2="741.8" stroke="#000" stroke-width="1.5" stroke-dasharray="5.1 6.58"/>
<line x1="477.6" y1="538.5" x2="477.6" y2="741.8" stroke="#000" stroke-width="1.5" stroke-dasharray="5.1 6.58"/>
<line x1="636.0" y1="538.5" x2="636.0" y2="741.8" stroke="#000" stroke-width="1.5" stroke-dasharray="5.1 6.58"/>
<line x1="794.5" y1="538.5" x2="794.5" y2="741.8" stroke="#000" stroke-width="1.5" stroke-dasharray="5.1 6.58"/>
<line x1="952.9" y1="538.5" x2="952.9" y2="741.8" stroke="#000" stroke-width="1.5" stroke-dasharray="5.1 6.58"/>
<rect x="161.0" y="530.8" width="950.4" height="211.0" fill="none" stroke="#000" stroke-width="2.3"/>
<path d="M319.1,530.8V511.2M319.1,741.8V761.4M477.6,530.8V511.2M477.6,741.8V761.4M636.0,530.8V511.2M636.0,741.8V761.4M794.5,530.8V511.2M794.5,741.8V761.4M952.9,530.8V511.2M952.9,741.8V761.4M1111.4,530.8V511.2M1111.4,741.8V761.4M161.0,530.8H141.4M1111.4,530.8H1131.0M161.0,566.0H141.4M1111.4,566.0H1131.0M161.0,601.1H141.4M1111.4,601.1H1131.0M161.0,636.3H141.4M1111.4,636.3H1131.0M161.0,671.5H141.4M1111.4,671.5H1131.0M161.0,706.6H141.4M1111.4,706.6H1131.0M161.0,741.8H141.4M1111.4,741.8H1131.0" stroke="#000" stroke-width="2.3" stroke-linecap="round" fill="none"/>
<path d="M192.3,530.8V521.0M192.3,741.8V751.6M224.0,530.8V521.0M224.0,741.8V751.6M255.7,530.8V521.0M255.7,741.8V751.6M287.4,530.8V521.0M287.4,741.8V751.6M350.8,530.8V521.0M350.8,741.8V751.6M382.5,530.8V521.0M382.5,741.8V751.6M414.2,530.8V521.0M414.2,741.8V751.6M445.9,530.8V521.0M445.9,741.8V751.6M509.3,530.8V521.0M509.3,741.8V751.6M540.9,530.8V521.0M540.9,741.8V751.6M572.6,530.8V521.0M572.6,741.8V751.6M604.3,530.8V521.0M604.3,741.8V751.6M667.7,530.8V521.0M667.7,741.8V751.6M699.4,530.8V521.0M699.4,741.8V751.6M731.1,530.8V521.0M731.1,741.8V751.6M762.8,530.8V521.0M762.8,741.8V751.6M826.2,530.8V521.0M826.2,741.8V751.6M857.9,530.8V521.0M857.9,741.8V751.6M889.6,530.8V521.0M889.6,741.8V751.6M921.2,530.8V521.0M921.2,741.8V751.6M984.6,530.8V521.0M984.6,741.8V751.6M1016.3,530.8V521.0M1016.3,741.8V751.6M1048.0,530.8V521.0M1048.0,741.8V751.6M1079.7,530.8V521.0M1079.7,741.8V751.6M161.0,542.5H151.2M1111.4,542.5H1121.2M161.0,554.2H151.2M1111.4,554.2H1121.2M161.0,577.7H151.2M1111.4,577.7H1121.2M161.0,589.4H151.2M1111.4,589.4H1121.2M161.0,612.9H151.2M1111.4,612.9H1121.2M161.0,624.6H151.2M1111.4,624.6H1121.2M161.0,648.0H151.2M1111.4,648.0H1121.2M161.0,659.7H151.2M1111.4,659.7H1121.2M161.0,683.2H151.2M1111.4,683.2H1121.2M161.0,694.9H151.2M1111.4,694.9H1121.2M161.0,718.4H151.2M1111.4,718.4H1121.2M161.0,730.1H151.2M1111.4,730.1H1121.2" stroke="#000" stroke-width="1.3" stroke-linecap="round" fill="none"/>
</g>
<g>
<path d="M162.4,951.2 162.4,953.6 162.4,968.6 162.4,1000.4 162.4,1041.6 162.4,1076.6 162.4,1090.3 162.7,1090.6 163.0,1092.8 163.3,1097.3 163.6,1103.1 163.9,1108.1 164.2,1110.1 164.5,1095.2 164.8,1057.3 165.1,1012.8 165.4,978.4 165.7,962.2 166.0,959.6 166.2,962.4 166.5,979.3 166.7,1015.2 166.9,1061.8 167.2,1101.3 167.4,1116.9 167.6,1102.5 167.8,1065.7 168.0,1022.5 168.2,989.2 168.5,973.5 168.7,970.9 169.0,973.4 169.3,988.3 169.6,1020.1 169.9,1061.3 170.2,1096.3 170.5,1110.1 170.8,1095.9 171.1,1059.9 171.4,1017.5 171.7,984.7 172.0,969.3 172.3,966.8 172.5,969.2 172.7,983.9 173.0,1015.2 173.2,1055.8 173.5,1090.2 173.7,1103.8 174.0,1091.5 174.3,1060.4 174.6,1023.7 174.9,995.4 175.2,982.1 175.5,979.9 175.7,982.1 175.9,995.9 176.1,1025.2 176.3,1063.0 176.5,1095.3 176.7,1107.9 177.1,1095.8 177.5,1065.1 177.8,1029.0 178.2,1001.1 178.5,988.0 178.9,985.8 179.1,987.9 179.3,1000.4 179.4,1026.9 179.6,1061.3 179.8,1090.5 180.0,1102.0 180.3,1087.8 180.6,1051.6 180.9,1009.2 181.2,976.3 181.5,960.9 181.8,958.4 182.0,960.9 182.3,976.8 182.6,1010.6 182.8,1054.3 183.1,1091.5 183.4,1106.1 183.7,1091.2 184.0,1053.4 184.3,1008.9 184.6,974.5 184.9,958.3 185.2,955.7 185.4,958.3 185.5,974.5 185.7,1009.0 185.9,1053.6 186.1,1091.6 186.3,1106.5 186.6,1092.2 187.0,1055.8 187.3,1013.1 187.7,980.0 188.1,964.5 188.4,962.0 188.6,964.3 188.8,978.6 189.0,1009.1 189.2,1048.6 189.5,1082.2 189.7,1095.3 190.0,1083.1 190.3,1051.9 190.7,1015.3 191.0,987.0 191.3,973.6 191.6,971.5 191.9,973.6 192.1,987.0 192.3,1015.4 192.5,1052.2 192.7,1083.4 192.9,1095.7 193.2,1083.8 193.6,1053.7 193.9,1018.2 194.2,990.8 194.5,977.9 194.9,975.8 195.1,977.9 195.2,990.9 195.4,1018.5 195.6,1054.3 195.8,1084.7 195.9,1096.6 196.3,1082.8 196.6,1047.7 196.9,1006.4 197.3,974.6 197.6,959.5 197.9,957.1 198.1,959.6 198.3,975.2 198.6,1008.3 198.8,1051.2 199.0,1087.7 199.2,1102.0 199.4,1086.5 199.7,1047.1 199.9,1000.8 200.1,965.0 200.4,948.2 200.6,945.5 200.9,948.1 201.2,964.5 201.5,999.2 201.8,1044.2 202.1,1082.5 202.4,1097.5 202.7,1084.2 202.9,1050.4 203.2,1010.7 203.5,980.0 203.8,965.6 204.0,963.2 204.3,965.3 204.5,978.3 204.7,1005.9 205.0,1041.7 205.2,1072.1 205.5,1084.0 205.7,1071.1 205.9,1038.1 206.2,999.3 206.4,969.4 206.7,955.3 206.9,953.0 207.2,955.4 207.5,970.1 207.8,1001.4 208.1,1042.0 208.4,1076.4 208.7,1089.9 209.0,1076.4 209.2,1041.8 209.5,1001.1 209.8,969.6 210.0,954.8 210.3,952.5 210.5,954.9 210.8,969.9 211.0,1001.7 211.3,1042.9 211.5,1078.0 211.7,1091.7 212.1,1077.4 212.4,1040.8 212.7,997.8 213.1,964.5 213.4,948.9 213.7,946.4 213.9,948.9 214.1,964.7 214.3,998.2 214.4,1041.6 214.6,1078.5 214.8,1093.0 215.1,1080.3 215.5,1047.9 215.8,1009.8 216.1,980.4 216.4,966.5 216.8,964.3 217.0,966.6 217.2,980.9 217.4,1011.3 217.6,1050.6 217.8,1084.0 218.0,1097.1 218.4,1082.9 218.7,1046.8 219.0,1004.3 219.3,971.5 219.7,956.0 220.0,953.5 220.2,955.9 220.4,970.8 220.6,1002.4 220.8,1043.3 221.0,1078.1 221.3,1091.7 221.6,1077.2 221.9,1040.2 222.2,996.6 222.6,963.0 222.9,947.1 223.2,944.6 223.4,947.4 223.6,965.4 223.9,1003.4 224.1,1052.6 224.3,1094.5 224.5,1110.9 224.8,1097.2 225.1,1062.2 225.5,1021.0 225.8,989.2 226.1,974.3 226.5,971.8 226.6,973.9 226.8,986.4 227.0,1013.1 227.2,1047.6 227.4,1077.0 227.5,1088.5 227.9,1076.8 228.2,1046.9 228.5,1011.7 228.9,984.5 229.2,971.8 229.5,969.7 229.7,972.0 229.9,986.2 230.1,1016.5 230.2,1055.6 230.4,1088.9 230.6,1102.0 230.9,1088.3 231.3,1053.5 231.7,1012.6 232.0,981.0 232.4,966.2 232.7,963.8 232.9,966.1 233.1,980.6 233.3,1011.4 233.5,1051.2 233.6,1085.1 233.8,1098.4 234.2,1085.7 234.5,1053.5 234.9,1015.7 235.3,986.4 235.6,972.6 236.0,970.4 236.2,972.6 236.3,986.1 236.5,1014.7 236.7,1051.8 236.9,1083.3 237.1,1095.7 237.4,1081.3 237.7,1044.7 238.0,1001.7 238.4,968.5 238.7,952.8 239.0,950.3 239.2,952.8 239.4,968.6 239.6,1002.0 239.7,1045.3 239.9,1082.1 240.1,1096.6 240.5,1084.6 240.8,1054.0 241.2,1018.0 241.5,990.3 241.9,977.2 242.3,975.1 242.4,977.1 242.6,989.7 242.8,1016.3 243.0,1050.9 243.2,1080.2 243.3,1091.7 243.7,1079.5 244.0,1048.3 244.3,1011.7 244.6,983.4 245.0,970.0 245.3,967.9 245.5,970.0 245.7,982.8 245.8,1010.0 246.0,1045.3 246.2,1075.3 246.4,1087.1 246.7,1074.9 247.1,1043.9 247.5,1007.4 247.8,979.2 248.2,965.9 248.5,963.8 248.7,966.0 248.9,979.6 249.1,1008.6 249.3,1046.2 249.4,1078.1 249.6,1090.7 250.0,1077.8 250.3,1045.1 250.7,1006.7 251.1,977.0 251.4,963.0 251.8,960.7 251.9,962.7 252.1,975.3 252.3,1002.0 252.5,1036.5 252.7,1065.9 252.8,1077.4 253.2,1065.3 253.5,1034.4 253.8,998.1 254.2,970.1 254.5,956.9 254.8,954.8 255.0,957.0 255.2,970.3 255.4,998.8 255.7,1035.6 255.9,1066.9 256.1,1079.2 256.4,1069.6 256.7,1045.3 257.1,1016.8 257.4,994.7 257.7,984.3 258.1,982.6 258.3,984.5 258.5,996.2 258.7,1021.0 258.9,1053.1 259.1,1080.5 259.3,1091.2 259.6,1079.2 260.0,1048.6 260.3,1012.7 260.6,984.9 261.0,971.8 261.3,969.7 261.5,971.8 261.7,984.9 261.9,1012.8 262.1,1049.0 262.3,1079.7 262.5,1091.7 262.8,1079.2 263.1,1047.3 263.4,1009.8 263.7,980.9 264.0,967.2 264.3,965.0 264.5,966.9 264.8,978.3 265.0,1002.7 265.2,1034.2 265.4,1060.9 265.6,1071.5 265.9,1061.5 266.2,1036.2 266.6,1006.5 266.9,983.5 267.2,972.7 267.6,970.9 267.8,972.8 268.0,984.6 268.2,1009.7 268.4,1042.1 268.6,1069.6 268.8,1080.4 269.1,1068.6 269.4,1038.3 269.6,1002.7 269.9,975.2 270.2,962.3 270.4,960.2 270.7,961.9 270.9,972.7 271.2,995.7 271.4,1025.5 271.6,1050.8 271.9,1060.7 272.2,1051.1 272.5,1026.7 272.8,998.0 273.1,975.9 273.4,965.4 273.7,963.8 273.9,966.0 274.1,980.1 274.4,1010.1 274.6,1048.9 274.9,1081.9 275.1,1094.8 275.4,1081.0 275.7,1045.9 276.0,1004.5 276.3,972.6 276.6,957.6 276.9,955.2 277.1,957.6 277.4,973.0 277.6,1005.6 277.9,1047.8 278.1,1083.8 278.3,1097.8 278.7,1084.1 279.0,1049.0 279.3,1007.7 279.6,975.8 280.0,960.8 280.3,958.4 280.5,960.6 280.7,974.7 280.8,1004.4 281.0,1042.9 281.2,1075.7 281.4,1088.5 281.7,1074.9 282.1,1040.1 282.5,999.2 282.8,967.6 283.2,952.7 283.5,950.3 283.7,952.5 283.9,965.9 284.1,994.4 284.3,1031.3 284.4,1062.7 284.6,1075.1 284.9,1063.3 285.3,1033.3 285.6,998.1 285.9,970.9 286.3,958.1 286.6,956.1 286.8,958.0 286.9,969.8 287.1,995.0 287.3,1027.5 287.5,1055.2 287.7,1066.1 288.0,1056.9 288.4,1033.7 288.7,1006.3 289.1,985.2 289.5,975.2 289.8,973.6 290.0,975.8 290.2,989.1 290.4,1017.3 290.5,1053.8 290.7,1084.9 290.9,1097.1 291.3,1084.4 291.6,1052.1 292.0,1014.1 292.3,984.7 292.7,970.8 293.1,968.6 293.2,970.5 293.4,982.5 293.6,1008.0 293.8,1040.9 293.9,1068.9 294.1,1079.9 294.5,1067.7 294.8,1036.7 295.1,1000.2 295.4,972.0 295.8,958.7 296.1,956.6 296.3,958.8 296.5,972.2 296.6,1000.7 296.8,1037.6 297.0,1069.0 297.2,1081.3 297.5,1068.4 297.9,1035.4 298.3,996.6 298.6,966.7 299.0,952.6 299.3,950.3 299.5,952.6 299.7,967.1 299.9,997.9 300.1,1037.7 300.2,1071.6 300.4,1084.9 300.7,1071.6 301.1,1037.6 301.4,997.6 301.7,966.7 302.1,952.1 302.4,949.8 302.6,952.1 302.7,966.3 302.9,996.6 303.1,1035.8 303.3,1069.1 303.5,1082.2 303.8,1069.7 304.2,1037.9 304.5,1000.4 304.9,971.5 305.3,957.9 305.6,955.7 305.8,958.0 306.0,972.4 306.2,1003.0 306.3,1042.5 306.5,1076.2 306.7,1089.4 307.1,1077.0 307.4,1045.4 307.8,1008.2 308.1,979.5 308.5,965.9 308.8,963.8 309.0,965.6 309.2,977.2 309.4,1001.8 309.6,1033.7 309.7,1060.8 309.9,1071.5 310.3,1061.6 310.6,1036.5 311.0,1007.1 311.4,984.3 311.7,973.6 312.1,971.8 312.3,974.0 312.4,987.6 312.6,1016.4 312.8,1053.7 313.0,1085.4 313.2,1097.8 313.5,1082.8 313.8,1044.4 314.1,999.3 314.4,964.5 314.6,948.1 314.9,945.5 315.2,948.1 315.4,964.3 315.6,998.7 315.8,1043.3 316.0,1081.2 316.2,1096.1 316.5,1082.5 316.8,1047.8 317.1,1007.1 317.4,975.6 317.7,960.8 318.0,958.4 318.2,960.8 318.5,976.1 318.7,1008.5 319.0,1050.5 319.2,1086.2 319.4,1100.2 319.7,1088.5 320.0,1058.7 320.3,1023.6 320.6,996.5 320.9,983.8 321.2,981.7 321.4,983.8 321.6,996.6 321.9,1023.9 322.1,1059.2 322.3,1089.3 322.5,1101.1 322.9,1088.3 323.3,1055.8 323.7,1017.5 324.0,988.0 324.4,974.1 324.8,971.8 325.0,973.8 325.1,985.6 325.3,1010.7 325.4,1043.2 325.6,1070.8 325.7,1081.7 326.1,1070.1 326.4,1040.7 326.8,1006.0 327.2,979.3 327.5,966.7 327.9,964.7 328.1,967.0 328.2,981.2 328.4,1011.5 328.6,1050.7 328.8,1084.0 328.9,1097.1 329.3,1084.2 329.7,1051.3 330.0,1012.7 330.4,982.8 330.7,968.7 331.1,966.5 331.3,968.6 331.4,981.7 331.6,1009.5 331.7,1045.5 331.9,1076.1 332.0,1088.2 332.4,1074.6 332.7,1040.0 333.1,999.4 333.4,968.0 333.8,953.2 334.2,950.8 334.3,953.3 334.5,968.7 334.7,1001.4 334.9,1043.8 335.1,1079.8 335.2,1093.9 335.6,1081.0 335.9,1048.3 336.3,1009.8 336.7,980.0 337.0,966.0 337.4,963.8 337.5,965.7 337.7,977.6 337.8,1002.9 338.0,1035.7 338.1,1063.6 338.3,1074.5 338.6,1063.8 339.0,1036.6 339.4,1004.7 339.7,980.0 340.1,968.3 340.4,966.5 340.6,968.2 340.8,979.2 341.0,1002.5 341.2,1032.7 341.3,1058.3 341.5,1068.4 341.9,1058.7 342.2,1033.9 342.6,1004.8 342.9,982.3 343.3,971.8 343.7,970.1 343.8,972.2 344.0,985.3 344.2,1013.1 344.4,1049.1 344.6,1079.7 344.7,1091.7 345.1,1078.1 345.4,1043.2 345.7,1002.3 346.1,970.7 346.4,955.8 346.7,953.4 346.9,955.5 347.1,969.0 347.3,997.5 347.6,1034.4 347.8,1065.8 348.0,1078.1 348.3,1065.1 348.6,1032.1 349.0,993.2 349.3,963.1 349.6,949.0 349.9,946.7 350.1,949.0 350.3,963.3 350.5,993.7 350.7,1033.0 350.8,1066.4 351.0,1079.5 351.3,1069.7 351.7,1044.6 352.0,1015.1 352.3,992.4 352.6,981.7 352.9,979.9 353.2,981.5 353.5,991.2 353.7,1011.8 354.0,1038.6 354.3,1061.3 354.5,1070.2 354.8,1059.7 355.1,1032.9 355.4,1001.4 355.7,977.1 356.0,965.6 356.3,963.8 356.6,965.8 356.8,978.4 357.1,1005.0 357.3,1039.5 357.5,1068.9 357.8,1080.4 358.1,1067.8 358.4,1035.8 358.7,998.1 359.0,968.9 359.3,955.2 359.6,953.0 359.8,955.1 360.0,968.3 360.3,996.2 360.5,1032.3 360.8,1063.0 361.0,1075.1 361.3,1064.7 361.6,1038.3 361.9,1007.2 362.2,983.2 362.5,971.9 362.8,970.1 363.1,971.7 363.3,982.3 363.6,1004.6 363.9,1033.6 364.1,1058.2 364.4,1067.9 364.6,1058.8 364.9,1035.8 365.1,1008.7 365.4,987.8 365.6,977.9 365.8,976.3 366.1,978.2 366.3,990.0 366.6,1015.0 366.8,1047.4 367.0,1075.0 367.3,1085.8 367.6,1073.3 367.8,1041.3 368.1,1003.8 368.4,974.8 368.6,961.1 368.9,958.9 369.1,960.9 369.4,973.0 369.6,998.7 369.9,1032.0 370.1,1060.3 370.3,1071.5 370.7,1059.9 371.1,1030.6 371.4,996.0 371.8,969.4 372.1,956.8 372.5,954.8 372.7,957.0 372.8,970.8 373.0,1000.2 373.2,1038.1 373.4,1070.5 373.6,1083.1 373.9,1070.1 374.2,1036.9 374.5,997.8 374.8,967.7 375.1,953.5 375.4,951.2 375.6,953.4 375.8,966.7 376.1,995.0 376.3,1031.6 376.6,1062.8 376.8,1075.1 377.1,1061.8 377.4,1028.1 377.7,988.4 378.0,957.7 378.3,943.3 378.6,941.0 378.8,943.4 379.1,958.7 379.3,991.2 379.5,1033.3 379.8,1069.1 380.0,1083.1 380.3,1070.0 380.6,1036.6 380.8,997.3 381.1,966.9 381.4,952.6 381.6,950.3 381.9,952.8 382.1,968.6 382.4,1002.0 382.6,1045.3 382.8,1082.1 383.1,1096.6 383.3,1081.6 383.6,1043.6 383.9,998.8 384.2,964.2 384.4,947.9 384.7,945.3 385.0,948.0 385.2,964.8 385.5,1000.4 385.8,1046.5 386.0,1085.7 386.3,1101.1 386.6,1086.9 386.8,1050.8 387.1,1008.3 387.4,975.4 387.7,960.0 387.9,957.5 388.2,959.7 388.5,973.5 388.7,1002.7 389.0,1040.5 389.3,1072.7 389.5,1085.3 389.8,1073.9 390.1,1045.0 390.3,1011.0 390.6,984.8 390.9,972.4 391.2,970.4 391.4,972.3 391.7,983.9 392.0,1008.7 392.2,1040.7 392.5,1068.0 392.8,1078.6 393.0,1066.5 393.3,1035.7 393.6,999.4 393.8,971.4 394.1,958.2 394.4,956.1 394.6,958.1 394.9,970.8 395.1,997.7 395.3,1032.5 395.6,1062.2 395.8,1073.8 396.1,1063.5 396.4,1037.4 396.7,1006.7 397.0,983.0 397.3,971.8 397.6,970.1 397.9,972.3 398.1,986.2 398.3,1015.6 398.6,1053.8 398.8,1086.2 399.1,1098.9 399.3,1083.0 399.5,1042.6 399.8,995.0 400.0,958.2 400.2,940.9 400.5,938.1 400.8,940.7 401.0,956.7 401.3,990.6 401.6,1034.6 401.8,1072.0 402.1,1086.7 402.4,1073.3 402.7,1039.0 403.0,998.8 403.3,967.7 403.6,953.0 403.9,950.7 404.1,953.2 404.4,969.0 404.6,1002.6 404.9,1046.0 405.1,1083.0 405.3,1097.5 405.6,1084.9 405.9,1052.8 406.2,1015.1 406.5,986.0 406.8,972.3 407.1,970.1 407.4,972.3 407.6,986.5 407.8,1016.7 408.1,1055.7 408.3,1088.9 408.6,1102.0 408.8,1087.1 409.1,1049.3 409.4,1004.9 409.6,970.5 409.9,954.3 410.2,951.7 410.4,954.2 410.7,969.5 410.9,1002.0 411.1,1044.1 411.4,1079.9 411.6,1093.9 411.9,1080.5 412.2,1046.4 412.5,1006.3 412.8,975.3 413.1,960.7 413.4,958.4 413.6,960.5 413.9,973.6 414.1,1001.3 414.4,1037.3 414.6,1067.9 414.8,1079.9 415.1,1066.2 415.4,1031.3 415.7,990.3 415.9,958.7 416.2,943.7 416.5,941.3 416.7,943.6 417.0,957.9 417.3,988.3 417.5,1027.6 417.8,1061.0 418.1,1074.2 418.3,1062.7 418.6,1033.4 418.9,999.0 419.2,972.4 419.4,959.9 419.7,957.8 419.9,960.1 420.2,973.8 420.4,1003.1 420.6,1041.0 420.9,1073.2 421.1,1085.8 421.4,1073.6 421.7,1042.4 422.0,1005.8 422.3,977.5 422.6,964.1 422.9,962.0 423.2,964.1 423.4,977.3 423.6,1005.4 423.9,1041.8 424.1,1072.8 424.4,1084.9 424.6,1073.8 424.9,1045.3 425.2,1011.8 425.4,986.0 425.7,973.8 426.0,971.8 426.2,973.8 426.5,985.9 426.8,1011.5 427.1,1044.7 427.3,1072.9 427.6,1084.0 427.9,1072.1 428.1,1041.6 428.4,1005.7 428.7,978.0 428.9,965.0 429.2,962.9 429.4,964.8 429.7,977.1 429.9,1003.2 430.2,1036.9 430.4,1065.6 430.6,1076.8 430.9,1065.9 431.2,1037.8 431.5,1004.9 431.8,979.5 432.1,967.5 432.4,965.6 432.7,967.9 432.9,982.7 433.2,1014.0 433.4,1054.5 433.6,1089.0 433.9,1102.5 434.1,1087.0 434.4,1047.6 434.7,1001.2 434.9,965.4 435.2,948.5 435.5,945.8 435.8,948.3 436.0,963.5 436.3,995.8 436.6,1037.6 436.8,1073.1 437.1,1087.1 437.4,1073.7 437.6,1039.5 437.9,999.2 438.2,968.2 438.4,953.6 438.7,951.2 439.0,953.5 439.2,967.8 439.4,998.2 439.7,1037.5 439.9,1070.9 440.2,1084.0 440.5,1070.7 440.8,1036.7 441.1,996.7 441.4,965.8 441.6,951.2 441.9,948.9 442.2,951.0 442.4,964.2 442.7,992.2 442.9,1028.5 443.1,1059.4 443.4,1071.5 443.7,1060.2 443.9,1031.4 444.2,997.6 444.5,971.4 444.7,959.1 445.0,957.1 445.3,959.1 445.5,971.3 445.8,997.1 446.1,1030.6 446.3,1059.0 446.6,1070.2 446.9,1059.5 447.2,1032.3 447.4,1000.2 447.7,975.5 448.0,963.9 448.2,962.0 448.5,964.3 448.7,978.4 448.9,1008.5 449.2,1047.4 449.4,1080.5 449.7,1093.5 450.0,1079.8 450.3,1044.8 450.6,1003.6 450.9,971.8 451.2,956.8 451.5,954.4 451.7,956.6 451.9,970.3 452.2,999.4 452.4,1037.1 452.7,1069.1 452.9,1081.7 453.2,1068.6 453.5,1035.1 453.8,995.8 454.1,965.5 454.4,951.2 454.7,948.9 454.9,951.2 455.2,965.3 455.4,995.4 455.6,1034.3 455.9,1067.4 456.1,1080.4 456.4,1067.8 456.7,1035.8 456.9,998.1 457.2,968.9 457.5,955.2 457.7,953.0 458.0,955.0 458.2,967.5 458.5,993.9 458.7,1028.2 458.9,1057.3 459.2,1068.8 459.5,1059.5 459.8,1036.1 460.1,1008.4 460.4,987.1 460.7,977.1 461.0,975.4 461.2,977.3 461.5,988.9 461.7,1013.5 461.9,1045.4 462.2,1072.5 462.4,1083.1 462.7,1070.5 462.9,1038.3 463.2,1000.5 463.5,971.3 463.8,957.5 464.0,955.3 464.3,958.0 464.5,974.3 464.7,1009.1 465.0,1054.1 465.2,1092.3 465.5,1107.4 465.8,1091.9 466.1,1052.6 466.4,1006.4 466.7,970.7 467.0,953.9 467.3,951.2 467.5,953.8 467.7,970.1 468.0,1004.5 468.2,1049.1 468.5,1087.1 468.7,1102.0 469.0,1087.5 469.3,1050.6 469.6,1007.2 469.9,973.7 470.2,957.9 470.5,955.3 470.7,957.8 470.9,972.9 471.1,1005.0 471.3,1046.5 471.5,1081.8 471.7,1095.7 472.0,1083.1 472.3,1051.0 472.6,1013.3 472.9,984.2 473.2,970.5 473.5,968.3 473.8,970.7 474.0,985.9 474.3,1018.3 474.5,1060.1 474.7,1095.7 475.0,1109.7 475.2,1096.4 475.5,1062.5 475.8,1022.7 476.1,991.9 476.3,977.4 476.6,975.1 476.8,977.3 477.1,990.8 477.3,1019.6 477.5,1056.9 477.8,1088.6 478.0,1101.1 478.3,1086.8 478.6,1050.4 478.9,1007.7 479.2,974.7 479.5,959.1 479.8,956.6 480.1,959.0 480.3,974.0 480.5,1005.8 480.8,1046.9 481.0,1082.0 481.3,1095.7 481.6,1080.3 481.9,1041.1 482.2,995.0 482.5,959.4 482.8,942.6 483.1,939.9 483.3,942.1 483.5,955.8 483.7,984.8 483.9,1022.4 484.1,1054.4 484.3,1067.0 484.6,1056.4 485.0,1029.4 485.3,997.6 485.6,973.1 486.0,961.5 486.3,959.6 486.5,961.8 486.6,974.9 486.8,1002.8 487.0,1038.9 487.2,1069.6 487.4,1081.7 487.7,1069.0 488.1,1036.7 488.4,998.7 488.8,969.4 489.2,955.6 489.5,953.4 489.7,955.9 489.9,971.8 490.1,1005.6 490.2,1049.3 490.4,1086.5 490.6,1101.1 490.9,1086.0 491.2,1047.7 491.6,1002.7 491.9,967.9 492.2,951.5 492.6,948.9 492.8,951.6 493.0,968.8 493.2,1005.1 493.4,1052.2 493.6,1092.2 493.8,1107.9 494.1,1093.7 494.5,1057.7 494.8,1015.3 495.1,982.6 495.5,967.1 495.8,964.7 496.0,967.0 496.2,981.5 496.4,1012.3 496.6,1052.1 496.8,1086.0 497.1,1099.3 497.4,1086.2 497.6,1052.9 497.9,1013.7 498.2,983.4 498.5,969.1 498.8,966.8 499.1,969.3 499.3,984.8 499.5,1017.6 499.7,1060.1 499.9,1096.2 500.1,1110.4 500.4,1095.4 500.8,1057.3 501.1,1012.5 501.4,977.9 501.7,961.5 502.1,958.9 502.3,961.6 502.4,978.5 502.6,1014.3 502.8,1060.6 503.0,1100.0 503.2,1115.4 503.5,1099.1 503.8,1057.6 504.1,1008.7 504.5,970.9 504.8,953.2 505.1,950.3 505.3,952.9 505.5,969.3 505.8,1004.1 506.0,1049.2 506.2,1087.5 506.4,1102.5 506.7,1088.2 507.0,1051.8 507.3,1009.0 507.6,975.9 507.9,960.4 508.2,957.8 508.4,960.4 508.7,976.5 508.9,1010.7 509.1,1055.0 509.4,1092.6 509.6,1107.4 509.9,1093.2 510.2,1057.2 510.5,1014.9 510.8,982.2 511.1,966.8 511.4,964.3 511.6,966.6 511.8,980.9 512.0,1011.3 512.2,1050.6 512.5,1084.0 512.7,1097.1 513.0,1084.8 513.3,1053.5 513.7,1016.7 514.0,988.3 514.3,974.9 514.6,972.7 514.9,975.2 515.1,990.1 515.3,1021.9 515.5,1063.1 515.7,1098.1 515.9,1111.8 516.2,1097.9 516.6,1062.3 516.9,1020.4 517.2,988.1 517.5,972.9 517.9,970.4 518.1,972.7 518.3,986.8 518.5,1016.7 518.7,1055.5 518.9,1088.5 519.1,1101.4 519.5,1089.0 519.8,1057.3 520.1,1020.0 520.4,991.2 520.8,977.6 521.1,975.4 521.3,977.6 521.5,991.0 521.7,1019.5 521.9,1056.5 522.1,1087.9 522.4,1100.2 522.7,1087.8 523.0,1056.3 523.3,1019.3 523.7,990.7 524.0,977.2 524.3,975.1 524.5,977.2 524.7,990.7 524.9,1019.3 525.1,1056.3 525.2,1087.8 525.4,1100.2 525.7,1086.6 526.1,1052.1 526.4,1011.4 526.7,980.0 527.1,965.3 527.4,962.9 527.6,965.3 527.8,980.2 528.0,1011.9 528.2,1052.9 528.4,1087.7 528.6,1101.4 529.0,1087.5 529.3,1051.9 529.6,1010.1 530.0,977.8 530.3,962.6 530.6,960.2 530.8,962.6 531.0,978.0 531.2,1010.5 531.5,1052.6 531.7,1088.5 531.9,1102.5 532.2,1088.7 532.5,1053.6 532.9,1012.2 533.2,980.3 533.5,965.3 533.8,962.9 534.1,965.3 534.3,980.3 534.5,1012.1 534.7,1053.2 534.9,1088.2 535.1,1102.0 535.4,1089.5 535.7,1057.6 536.0,1020.2 536.3,991.3 536.6,977.6 536.9,975.4 537.1,977.1 537.4,987.3 537.6,1009.1 537.9,1037.2 538.1,1061.2 538.3,1070.6 538.6,1058.6 538.9,1028.3 539.2,992.6 539.5,965.0 539.8,952.0 540.1,949.9 540.3,952.3 540.5,967.1 540.8,998.4 541.0,1039.0 541.2,1073.5 541.4,1087.1 541.7,1074.6 542.0,1042.8 542.3,1005.4 542.6,976.5 543.0,962.9 543.3,960.7 543.5,963.0 543.7,977.0 543.9,1006.7 544.1,1045.1 544.3,1077.8 544.5,1090.7 544.8,1079.6 545.1,1051.5 545.4,1018.5 545.7,993.0 546.0,981.0 546.3,979.0 546.6,980.9 546.8,992.6 547.1,1017.4 547.3,1049.6 547.5,1076.9 547.8,1087.6 548.1,1074.5 548.4,1041.1 548.7,1001.8 549.0,971.4 549.3,957.1 549.6,954.8 549.8,957.1 550.0,971.6 550.3,1002.4 550.5,1042.2 550.8,1076.1 551.0,1089.4 551.3,1077.0 551.6,1045.4 551.9,1008.2 552.2,979.5 552.5,965.9 552.8,963.8 553.0,966.2 553.3,981.2 553.5,1012.9 553.8,1054.1 554.0,1089.1 554.2,1102.9 554.5,1088.5 554.8,1052.0 555.0,1009.1 555.3,976.0 555.6,960.4 555.8,957.8 556.1,960.2 556.3,975.0 556.6,1006.3 556.8,1046.8 557.0,1081.3 557.3,1094.8 557.6,1082.4 557.9,1050.8 558.2,1013.6 558.5,984.9 558.8,971.3 559.1,969.2 559.3,971.2 559.6,983.7 559.8,1010.4 560.0,1044.9 560.3,1074.3 560.5,1085.8 560.8,1074.6 561.1,1045.9 561.4,1012.1 561.7,986.1 562.0,973.8 562.3,971.8 562.5,974.0 562.8,987.4 563.0,1015.9 563.3,1052.9 563.5,1084.3 563.7,1096.6 564.0,1082.3 564.2,1045.8 564.5,1003.0 564.7,969.8 564.9,954.3 565.2,951.7 565.4,954.4 565.7,971.0 566.0,1006.3 566.3,1052.0 566.5,1090.9 566.8,1106.1 567.1,1092.3 567.3,1057.2 567.6,1015.8 567.9,983.9 568.1,968.9 568.4,966.5 568.7,968.7 568.9,982.8 569.2,1012.7 569.5,1051.3 569.8,1084.2 570.0,1097.1 570.3,1084.5 570.5,1052.1 570.7,1014.2 571.0,984.8 571.2,971.0 571.5,968.8 571.8,971.1 572.1,985.2 572.4,1015.1 572.7,1053.8 573.0,1086.7 573.3,1099.6 573.5,1085.7 573.7,1050.3 574.0,1008.7 574.2,976.5 574.5,961.4 574.7,958.9 575.0,961.4 575.3,976.9 575.6,1009.8 575.9,1052.4 576.2,1088.7 576.5,1102.9 576.7,1089.0 577.0,1053.7 577.2,1012.1 577.4,980.1 577.7,964.9 577.9,962.5 578.2,964.9 578.5,979.9 578.7,1011.8 579.0,1053.1 579.3,1088.2 579.5,1102.0 579.8,1087.4 580.1,1050.4 580.3,1006.8 580.6,973.2 580.9,957.3 581.2,954.8 581.4,957.4 581.6,973.8 581.9,1008.5 582.1,1053.5 582.4,1091.8 582.6,1106.8 582.9,1093.0 583.2,1057.8 583.5,1016.3 583.8,984.3 584.1,969.2 584.4,966.8 584.6,969.2 584.9,983.6 585.1,1014.4 585.3,1054.3 585.6,1088.1 585.8,1101.4 586.1,1088.3 586.4,1054.8 586.7,1015.3 587.0,984.9 587.3,970.6 587.6,968.3 587.9,970.5 588.1,984.4 588.3,1013.8 588.6,1052.0 588.8,1084.4 589.1,1097.1 589.3,1082.3 589.6,1044.5 589.9,1000.1 590.1,965.8 590.4,949.7 590.7,947.1 590.9,949.8 591.1,967.0 591.4,1003.4 591.6,1050.6 591.9,1090.7 592.1,1106.5 592.4,1093.0 592.6,1058.7 592.9,1018.3 593.2,987.1 593.4,972.4 593.7,970.1 594.0,972.4 594.3,986.7 594.5,1017.0 594.8,1056.3 595.1,1089.8 595.3,1102.9 595.6,1089.7 595.9,1056.0 596.1,1016.4 596.4,985.9 596.7,971.5 596.9,969.2 597.2,971.2 597.5,984.0 597.8,1011.0 598.0,1046.1 598.3,1075.9 598.6,1087.6 598.8,1077.9 599.1,1053.0 599.4,1023.8 599.6,1001.2 599.9,990.6 600.2,988.9 600.4,990.6 600.7,1001.0 600.9,1023.2 601.1,1051.9 601.4,1076.2 601.6,1085.8 601.9,1073.0 602.2,1040.2 602.5,1001.7 602.8,972.0 603.1,957.9 603.4,955.7 603.6,958.3 603.9,974.8 604.1,1009.8 604.4,1055.0 604.6,1093.5 604.8,1108.6 605.1,1092.4 605.4,1051.1 605.7,1002.6 605.9,965.1 606.2,947.4 606.5,944.6 606.7,947.2 607.0,963.3 607.3,997.5 607.5,1041.8 607.8,1079.5 608.1,1094.3 608.3,1081.1 608.6,1047.5 608.9,1007.9 609.2,977.4 609.4,963.0 609.7,960.7 609.9,963.0 610.2,976.9 610.4,1006.4 610.6,1044.7 610.9,1077.2 611.1,1089.9 611.4,1077.0 611.7,1044.0 612.0,1005.2 612.3,975.3 612.6,961.2 612.9,958.9 613.2,961.3 613.4,976.4 613.6,1008.2 613.9,1049.5 614.1,1084.6 614.4,1098.4 614.6,1085.1 614.9,1051.4 615.2,1011.7 615.4,981.1 615.7,966.6 616.0,964.3 616.2,966.5 616.5,980.2 616.8,1009.4 617.1,1047.1 617.3,1079.2 617.6,1091.7 617.9,1078.1 618.1,1043.3 618.4,1002.4 618.7,970.8 618.9,955.9 619.2,953.5 619.5,955.8 619.7,970.1 620.0,1000.5 620.3,1039.8 620.6,1073.2 620.8,1086.4 621.1,1072.6 621.3,1037.5 621.5,996.3 621.8,964.5 622.0,949.5 622.3,947.1 622.6,949.8 622.9,966.6 623.2,1002.3 623.5,1048.5 623.8,1087.8 624.1,1103.2 624.3,1088.4 624.5,1050.6 624.7,1006.1 624.9,971.8 625.1,955.6 625.3,953.0 625.6,955.3 625.9,969.3 626.2,999.0 626.5,1037.5 626.8,1070.3 627.1,1083.1 627.4,1070.8 627.6,1039.2 627.9,1002.1 628.2,973.5 628.4,960.0 628.7,957.8 629.0,960.1 629.3,974.2 629.5,1004.2 629.8,1042.9 630.1,1075.9 630.3,1088.9 630.6,1075.0 630.9,1039.8 631.1,998.4 631.4,966.4 631.7,951.3 631.9,948.9 632.2,951.5 632.5,967.6 632.8,1001.7 633.0,1046.0 633.3,1083.6 633.6,1098.4 633.8,1084.2 634.1,1048.1 634.4,1005.6 634.6,972.7 634.9,957.3 635.2,954.8 635.4,957.5 635.5,974.4 635.7,1010.3 635.9,1056.8 636.1,1096.3 636.3,1111.8 636.6,1097.3 637.0,1060.3 637.3,1016.7 637.7,983.1 638.1,967.2 638.4,964.7 638.6,966.8 638.7,980.2 638.9,1008.6 639.0,1045.3 639.2,1076.6 639.3,1088.9 639.7,1077.1 640.0,1047.2 640.4,1012.1 640.7,984.9 641.1,972.1 641.5,970.1 641.6,972.0 641.8,984.2 642.0,1010.0 642.2,1043.5 642.4,1072.0 642.5,1083.1 642.8,1071.1 643.1,1040.5 643.4,1004.6 643.7,976.8 644.0,963.7 644.3,961.6 644.6,963.7 644.8,976.6 645.1,1004.1 645.3,1039.6 645.5,1069.8 645.8,1081.7 646.1,1070.0 646.4,1040.2 646.7,1005.1 647.0,978.0 647.3,965.3 647.6,963.2 647.8,965.2 648.0,977.8 648.3,1004.4 648.5,1038.8 648.8,1068.0 649.0,1079.5 649.3,1067.7 649.6,1037.7 649.9,1002.4 650.2,975.1 650.5,962.2 650.8,960.2 651.0,962.4 651.3,976.0 651.5,1004.8 651.8,1042.1 652.0,1073.9 652.2,1086.4 652.5,1073.8 652.8,1041.9 653.1,1004.4 653.4,975.5 653.7,961.8 654.0,959.6 654.3,961.9 654.5,975.8 654.7,1005.3 655.0,1043.6 655.2,1076.1 655.5,1088.9 655.7,1075.7 655.9,1042.0 656.2,1002.4 656.4,971.9 656.7,957.5 656.9,955.2 657.2,957.3 657.5,970.7 657.8,999.3 658.1,1036.2 658.4,1067.6 658.7,1079.9 658.9,1066.0 659.2,1030.6 659.4,988.9 659.6,956.8 659.9,941.6 660.1,939.2 660.4,941.9 660.7,959.0 661.0,995.3 661.3,1042.2 661.6,1082.2 661.9,1097.8 662.2,1083.8 662.4,1048.0 662.6,1006.0 662.9,973.5 663.1,958.2 663.4,955.7 663.6,958.2 663.9,973.6 664.2,1006.3 664.4,1048.7 664.7,1084.8 665.0,1098.9 665.2,1085.5 665.5,1051.2 665.8,1011.0 666.1,979.9 666.3,965.2 666.6,962.9 666.9,964.9 667.1,977.3 667.4,1003.6 667.7,1037.7 667.9,1066.7 668.2,1078.1 668.5,1066.9 668.7,1038.3 669.0,1004.8 669.3,978.8 669.6,966.6 669.8,964.7 670.1,966.8 670.3,979.9 670.5,1007.7 670.8,1043.7 671.0,1074.3 671.3,1086.4 671.6,1073.4 671.9,1040.4 672.2,1001.5 672.5,971.6 672.8,957.4 673.1,955.2 673.3,957.5 673.5,972.4 673.8,1003.9 674.0,1044.7 674.2,1079.4 674.5,1093.0 674.8,1079.3 675.1,1044.2 675.4,1003.1 675.7,971.3 676.0,956.3 676.3,953.9 676.5,956.1 676.7,969.9 676.9,999.3 677.1,1037.3 677.3,1069.6 677.5,1082.2 677.8,1068.6 678.1,1033.8 678.4,992.9 678.7,961.3 679.0,946.4 679.3,944.0 679.5,946.6 679.8,962.5 680.0,996.3 680.2,1040.0 680.4,1077.2 680.6,1091.7 680.9,1078.5 681.2,1044.8 681.6,1005.2 681.9,974.6 682.2,960.2 682.6,957.8 682.8,960.2 683.0,975.0 683.2,1006.3 683.4,1046.8 683.6,1081.3 683.8,1094.8 684.1,1080.5 684.5,1044.0 684.8,1001.2 685.1,968.1 685.5,952.5 685.8,949.9 686.0,952.5 686.2,968.5 686.4,1002.4 686.6,1046.4 686.8,1083.7 687.1,1098.4 687.4,1084.2 687.7,1048.2 688.0,1005.8 688.4,973.1 688.7,957.6 689.0,955.2 689.2,957.2 689.4,970.1 689.7,997.4 689.9,1032.7 690.1,1062.7 690.3,1074.5 690.6,1062.8 690.9,1033.0 691.3,997.9 691.6,970.9 691.9,958.1 692.3,956.1 692.5,958.3 692.7,972.4 692.9,1002.4 693.1,1041.2 693.3,1074.1 693.5,1087.1 693.8,1074.0 694.1,1040.7 694.4,1001.6 694.7,971.3 695.0,957.1 695.3,954.8 695.5,957.2 695.8,971.9 696.0,1003.2 696.3,1043.7 696.5,1078.2 696.7,1091.7 697.0,1079.0 697.3,1046.7 697.6,1008.7 697.9,979.3 698.2,965.5 698.5,963.2 698.7,965.2 699.0,977.5 699.2,1003.6 699.4,1037.4 699.6,1066.1 699.8,1077.4 700.1,1066.0 700.5,1036.9 700.8,1002.8 701.1,976.4 701.4,964.0 701.8,962.0 702.0,964.2 702.2,977.7 702.4,1006.4 702.6,1043.6 702.8,1075.2 703.0,1087.6 703.4,1073.9 703.7,1039.0 704.0,997.9 704.3,966.2 704.7,951.3 705.0,948.9 705.2,951.2 705.4,965.8 705.6,996.7 705.8,1036.7 706.0,1070.7 706.3,1084.0 706.6,1071.0 706.9,1037.9 707.2,999.0 707.5,968.9 707.8,954.7 708.1,952.5 708.3,954.9 708.5,969.8 708.7,1001.5 708.9,1042.6 709.1,1077.5 709.3,1091.2 709.6,1077.3 710.0,1041.7 710.3,999.9 710.6,967.6 711.0,952.4 711.3,949.9 711.5,952.3 711.7,967.0 711.9,998.3 712.1,1038.8 712.3,1073.2 712.5,1086.7 712.8,1072.3 713.1,1035.6 713.4,992.5 713.7,959.2 714.0,943.5 714.3,941.0 714.6,943.1 714.8,956.5 715.1,984.9 715.3,1021.6 715.5,1052.9 715.8,1065.2 716.0,1052.4 716.3,1019.9 716.6,981.6 716.8,952.1 717.1,938.2 717.4,935.9 717.6,938.5 717.9,954.3 718.1,988.0 718.3,1031.5 718.6,1068.6 718.8,1083.1 719.1,1069.9 719.4,1036.3 719.6,996.7 719.9,966.1 720.2,951.7 720.4,949.4 720.7,951.9 721.0,967.1 721.2,999.5 721.5,1041.5 721.8,1077.2 722.1,1091.2 722.3,1077.9 722.6,1044.0 722.9,1004.2 723.1,973.4 723.4,958.9 723.7,956.6 723.9,958.9 724.2,973.6 724.5,1004.6 724.7,1044.8 725.0,1079.0 725.3,1092.5 725.6,1077.9 725.8,1040.9 726.1,997.3 726.4,963.7 726.6,947.8 726.9,945.3 727.2,947.9 727.4,964.4 727.7,999.2 728.0,1044.4 728.2,1082.8 728.5,1097.8 728.8,1083.1 729.1,1045.5 729.3,1001.3 729.6,967.2 729.9,951.1 730.1,948.5 730.4,950.8 730.6,965.2 730.8,995.6 731.1,1035.0 731.3,1068.5 731.6,1081.7 731.6,1081.6 731.7,1081.3 731.8,1080.9 731.9,1080.6 731.9,1080.5 732.0,1080.4 732.3,1067.2 732.6,1033.4 732.8,993.6 733.1,963.0 733.4,948.5 733.6,946.2 733.8,949.0 734.0,966.2 734.2,1002.7 734.4,1050.1 734.5,1090.3 734.7,1106.1 735.1,1091.8 735.4,1055.3 735.8,1012.4 736.2,979.2 736.5,963.6 736.9,961.1 737.0,963.3 737.2,977.3 737.3,1006.9 737.5,1045.2 737.6,1077.9 737.8,1090.7 738.1,1077.6 738.5,1044.3 738.8,1005.2 739.2,974.9 739.6,960.7 739.9,958.4 740.1,960.6 740.3,974.5 740.5,1004.1 740.6,1042.3 740.8,1074.9 741.0,1087.6 741.4,1073.8 741.7,1038.7 742.1,997.5 742.4,965.6 742.8,950.6 743.2,948.2 743.3,950.6 743.5,966.1 743.7,998.9 743.9,1041.4 744.1,1077.6 744.2,1091.7 744.6,1078.8 744.9,1045.8 745.2,1007.0 745.5,977.1 745.9,963.0 746.2,960.7 746.4,962.6 746.6,974.6 746.7,999.9 746.9,1032.6 747.1,1060.5 747.3,1071.5 747.6,1058.3 748.0,1024.7 748.4,985.3 748.7,954.8 749.1,940.4 749.4,938.1 749.6,940.5 749.8,955.2 750.0,986.5 750.2,1027.1 750.3,1061.5 750.5,1075.1 750.9,1062.3 751.2,1029.6 751.6,991.3 751.9,961.7 752.3,947.7 752.7,945.5 752.8,947.4 753.0,959.7 753.2,985.8 753.4,1019.5 753.6,1048.2 753.7,1059.4 754.1,1049.0 754.4,1022.4 754.7,991.2 755.1,967.1 755.4,955.7 755.7,953.9 755.9,956.2 756.1,970.7 756.3,1001.4 756.6,1041.1 756.8,1074.9 757.0,1088.2 757.3,1075.0 757.6,1041.4 758.0,1001.9 758.3,971.5 758.6,957.1 758.9,954.8 759.2,957.4 759.4,973.8 759.6,1008.5 759.8,1053.5 760.0,1091.8 760.2,1106.8 760.5,1093.0 760.8,1057.6 761.1,1016.1 761.4,984.0 761.7,968.9 762.0,966.5 762.2,968.5 762.4,981.5 762.6,1009.0 762.8,1044.6 763.0,1074.8 763.3,1086.7 763.6,1072.3 763.9,1035.6 764.2,992.4 764.5,959.0 764.8,943.3 765.1,940.8 765.3,943.1 765.5,957.7 765.8,988.7 766.0,1028.8 766.2,1062.9 766.5,1076.3 766.8,1064.1 767.1,1033.1 767.4,996.6 767.7,968.4 768.0,955.1 768.3,953.0 768.5,955.2 768.8,969.0 769.0,998.4 769.2,1036.4 769.5,1068.7 769.7,1081.3 770.0,1069.4 770.3,1038.9 770.6,1003.0 770.9,975.3 771.2,962.3 771.5,960.2 771.8,962.4 772.0,976.3 772.2,1005.7 772.5,1043.8 772.7,1076.2 772.9,1088.9 773.2,1074.2 773.5,1036.8 773.8,992.9 774.1,959.0 774.4,943.0 774.7,940.4 775.0,943.1 775.2,959.3 775.4,993.9 775.6,1038.7 775.8,1076.8 776.0,1091.7 776.3,1076.8 776.7,1038.8 777.0,994.2 777.3,959.7 777.6,943.4 778.0,940.8 778.2,943.3 778.4,959.1 778.6,992.5 778.8,1035.8 779.0,1072.6 779.2,1087.1 779.5,1072.6 779.8,1035.8 780.0,992.5 780.3,959.1 780.6,943.3 780.8,940.8 781.1,943.3 781.3,958.8 781.6,991.8 781.8,1034.4 782.0,1070.7 782.3,1084.9 782.6,1073.5 782.9,1044.3 783.2,1010.1 783.5,983.6 783.8,971.2 784.1,969.2 784.3,971.1 784.6,982.9 784.8,1008.1 785.0,1040.6 785.3,1068.3 785.5,1079.2 785.8,1066.6 786.1,1034.6 786.4,997.0 786.7,968.0 787.0,954.3 787.3,952.1 787.5,954.5 787.7,969.6 787.9,1001.6 788.1,1043.0 788.4,1078.3 788.6,1092.1 788.9,1077.3 789.2,1039.6 789.5,995.2 789.8,961.0 790.1,944.8 790.4,942.2 790.6,944.7 790.8,959.9 791.1,992.2 791.3,1034.0 791.6,1069.5 791.8,1083.5 792.1,1071.7 792.5,1041.5 792.8,1006.1 793.1,978.7 793.4,965.8 793.8,963.8 794.0,965.8 794.2,978.2 794.4,1004.6 794.6,1038.7 794.8,1067.8 795.0,1079.2 795.3,1066.4 795.6,1033.7 795.9,995.3 796.2,965.6 796.5,951.7 796.8,949.4 797.1,951.9 797.3,967.3 797.5,1000.0 797.8,1042.3 798.0,1078.3 798.3,1092.5 798.5,1079.3 798.8,1045.7 799.1,1006.1 799.3,975.6 799.6,961.2 799.9,958.9 800.1,961.3 800.4,975.8 800.6,1006.8 800.8,1046.8 801.1,1080.9 801.3,1094.3 801.6,1081.7 801.9,1049.8 802.2,1012.2 802.5,983.2 802.8,969.6 803.1,967.4 803.3,969.5 803.6,983.0 803.8,1011.5 804.1,1048.4 804.3,1079.8 804.5,1092.1 804.8,1079.0 805.1,1045.7 805.4,1006.6 805.7,976.4 806.0,962.1 806.3,959.8 806.6,961.9 806.8,974.8 807.1,1002.1 807.3,1037.6 807.5,1067.7 807.8,1079.5 808.1,1068.2 808.4,1039.2 808.7,1005.0 809.0,978.7 809.3,966.3 809.6,964.3 809.8,966.4 810.0,979.5 810.2,1007.3 810.4,1043.2 810.6,1073.8 810.8,1085.8 811.1,1072.2 811.4,1037.4 811.7,996.5 812.0,964.9 812.3,950.0 812.6,947.6 812.9,950.3 813.1,966.6 813.3,1001.4 813.6,1046.4 813.8,1084.6 814.1,1099.6 814.4,1084.4 814.6,1045.7 814.9,1000.2 815.2,965.0 815.5,948.5 815.8,945.8 816.1,948.5 816.3,965.2 816.6,1000.6 816.8,1046.4 817.0,1085.4 817.3,1100.7 817.6,1089.0 817.8,1059.0 818.1,1023.8 818.4,996.6 818.6,983.8 818.9,981.7 819.1,983.7 819.4,996.3 819.6,1023.0 819.9,1057.5 820.1,1086.9 820.3,1098.4 820.6,1085.7 820.9,1053.5 821.2,1015.7 821.5,986.4 821.8,972.6 822.1,970.4 822.4,972.3 822.6,984.2 822.8,1009.5 823.1,1042.2 823.3,1070.1 823.6,1081.0 823.8,1068.6 824.1,1037.2 824.4,1000.2 824.6,971.7 824.9,958.2 825.2,956.1 825.4,958.3 825.7,972.5 826.0,1002.6 826.3,1041.5 826.5,1074.6 826.8,1087.6 827.1,1073.8 827.3,1038.5 827.6,997.1 827.9,965.1 828.1,950.0 828.4,947.6 828.6,950.4 828.9,967.4 829.1,1003.6 829.4,1050.6 829.6,1090.4 829.8,1106.1 830.1,1092.5 830.4,1057.8 830.7,1017.0 830.9,985.5 831.2,970.6 831.5,968.3 831.7,970.6 832.0,984.9 832.3,1015.2 832.5,1054.5 832.8,1088.0 833.1,1101.1 833.3,1087.6 833.6,1053.1 833.9,1012.7 834.2,981.4 834.4,966.7 834.7,964.3 835.0,966.8 835.2,982.1 835.5,1014.7 835.8,1056.9 836.0,1092.7 836.3,1106.8 836.5,1092.5 836.8,1056.1 837.0,1013.2 837.3,980.1 837.5,964.5 837.7,962.0 838.0,964.5 838.3,979.9 838.6,1012.7 838.8,1055.2 839.1,1091.4 839.4,1105.6 839.6,1091.6 839.9,1055.9 840.2,1013.9 840.4,981.5 840.7,966.2 841.0,963.8 841.2,966.1 841.5,980.8 841.8,1012.0 842.1,1052.4 842.3,1086.7 842.6,1100.2 842.9,1086.9 843.1,1053.1 843.4,1013.4 843.7,982.7 843.9,968.3 844.2,965.9 844.4,968.3 844.7,983.2 844.9,1014.7 845.2,1055.5 845.4,1090.2 845.6,1103.8 845.9,1090.1 846.2,1055.1 846.4,1014.1 846.7,982.4 847.0,967.4 847.3,965.0 847.5,967.4 847.8,981.8 848.1,1012.5 848.3,1052.2 848.6,1086.0 848.9,1099.3 849.1,1087.9 849.4,1059.0 849.7,1025.0 849.9,998.8 850.2,986.4 850.5,984.4 850.8,986.4 851.0,998.6 851.3,1024.5 851.6,1058.1 851.8,1086.6 852.1,1097.8 852.4,1084.8 852.6,1051.5 852.9,1012.3 853.2,982.1 853.4,967.9 853.7,965.6 854.0,967.8 854.2,981.7 854.4,1011.1 854.7,1049.2 854.9,1081.5 855.2,1094.3 855.4,1079.8 855.7,1043.1 856.0,999.8 856.2,966.4 856.5,950.7 856.8,948.2 857.0,951.0 857.3,968.7 857.6,1006.3 857.8,1055.1 858.1,1096.5 858.4,1112.7 858.7,1100.0 858.9,1067.6 859.2,1029.6 859.5,1000.1 859.7,986.3 860.0,984.1 860.3,986.2 860.5,999.6 860.8,1028.1 861.1,1065.0 861.3,1096.3 861.6,1108.6 861.9,1093.2 862.2,1054.1 862.5,1008.0 862.8,972.5 863.1,955.7 863.4,953.0 863.6,955.6 863.9,971.5 864.1,1005.4 864.4,1049.2 864.6,1086.5 864.8,1101.1 865.1,1088.4 865.4,1056.1 865.7,1018.1 865.9,988.8 866.2,975.0 866.5,972.7 866.7,975.1 866.9,990.0 867.2,1021.6 867.4,1062.5 867.7,1097.3 867.9,1110.9 868.2,1096.1 868.5,1058.3 868.8,1013.8 869.1,979.5 869.4,963.3 869.7,960.7 869.9,963.0 870.2,977.3 870.4,1007.7 870.6,1047.0 870.9,1080.4 871.1,1093.5 871.4,1080.7 871.7,1048.1 871.9,1009.6 872.2,980.0 872.5,966.0 872.7,963.8 873.0,966.3 873.2,981.7 873.5,1014.5 873.7,1057.0 873.9,1093.2 874.2,1107.4 874.5,1094.1 874.8,1060.2 875.1,1020.3 875.4,989.6 875.7,975.1 876.0,972.7 876.2,975.0 876.5,989.2 876.7,1019.3 876.9,1058.2 877.2,1091.3 877.4,1104.3 877.7,1090.4 878.0,1055.1 878.3,1013.5 878.6,981.3 878.9,966.2 879.2,963.8 879.4,966.1 879.7,980.4 879.9,1010.9 880.2,1050.4 880.4,1084.0 880.6,1097.1 880.9,1086.1 881.2,1057.9 881.5,1024.8 881.8,999.3 882.1,987.2 882.4,985.3 882.7,987.1 882.9,998.4 883.2,1022.3 883.4,1053.3 883.6,1079.6 883.9,1089.9 884.1,1078.1 884.4,1047.9 884.6,1012.4 884.8,985.0 885.1,972.1 885.3,970.1 885.6,972.3 885.9,986.2 886.2,1015.7 886.5,1054.0 886.8,1086.5 887.1,1099.3 887.3,1085.3 887.6,1049.7 887.8,1007.9 888.1,975.5 888.3,960.3 888.5,957.8 888.8,960.2 889.1,974.9 889.4,1006.1 889.7,1046.4 890.0,1080.8 890.3,1094.3 890.6,1081.0 890.8,1047.3 891.1,1007.6 891.3,976.9 891.5,962.5 891.8,960.2 892.0,962.6 892.3,977.9 892.6,1010.3 892.8,1052.3 893.1,1088.0 893.4,1102.0 893.7,1089.4 893.9,1057.3 894.2,1019.6 894.5,990.5 894.7,976.7 895.0,974.5 895.3,976.8 895.5,990.5 895.8,1019.8 896.1,1057.7 896.3,1089.9 896.6,1102.5 896.9,1089.8 897.1,1057.5 897.3,1019.4 897.6,990.1 897.8,976.2 898.1,974.0 898.4,976.1 898.6,989.2 898.9,1016.9 899.2,1052.8 899.5,1083.3 899.8,1095.3 900.1,1083.2 900.3,1052.4 900.6,1016.1 900.8,988.1 901.0,974.9 901.3,972.7 901.6,975.1 901.8,989.4 902.1,1019.9 902.4,1059.4 902.6,1092.9 902.9,1106.1 903.2,1092.6 903.4,1058.1 903.7,1017.6 904.0,986.3 904.2,971.5 904.5,969.2 904.8,971.2 905.1,983.8 905.3,1010.6 905.6,1045.3 905.9,1074.8 906.1,1086.4 906.4,1075.4 906.6,1047.6 906.8,1014.9 907.1,989.6 907.3,977.7 907.6,975.8 907.9,977.8 908.2,990.4 908.5,1017.0 908.8,1051.6 909.1,1080.9 909.4,1092.5 909.6,1080.3 909.8,1049.2 910.1,1012.7 910.3,984.6 910.6,971.3 910.8,969.2 911.1,971.5 911.3,986.4 911.6,1018.0 911.9,1058.9 912.1,1093.7 912.4,1107.4 912.7,1092.8 912.9,1055.8 913.2,1012.2 913.5,978.6 913.8,962.7 914.0,960.2 914.3,962.5 914.6,976.9 914.8,1007.6 915.1,1047.3 915.4,1081.0 915.6,1094.3 915.9,1081.4 916.2,1048.7 916.4,1010.3 916.7,980.6 917.0,966.6 917.3,964.3 917.5,966.7 917.8,981.6 918.1,1013.3 918.3,1054.3 918.6,1089.2 918.9,1102.9 919.1,1090.7 919.4,1059.8 919.7,1023.4 919.9,995.3 920.2,982.1 920.5,979.9 920.7,981.7 921.0,992.9 921.3,1016.7 921.5,1047.5 921.8,1073.7 922.0,1084.0 922.3,1072.0 922.6,1041.2 922.8,1005.1 923.1,977.2 923.4,964.1 923.6,962.0 923.9,964.0 924.1,976.7 924.4,1003.7 924.6,1038.6 924.8,1068.2 925.1,1079.9 925.4,1068.2 925.7,1038.4 926.0,1003.3 926.3,976.2 926.6,963.5 926.9,961.4 927.1,963.5 927.3,976.4 927.5,1003.8 927.7,1039.3 927.9,1069.5 928.1,1081.3 928.4,1068.9 928.7,1037.3 929.0,1000.1 929.3,971.4 929.6,957.9 929.9,955.7 930.2,958.1 930.4,972.8 930.6,1004.0 930.9,1044.5 931.1,1079.0 931.4,1092.5 931.7,1080.0 932.0,1048.2 932.3,1010.8 932.6,981.9 932.9,968.3 933.2,966.1 933.4,968.0 933.6,979.8 933.8,1004.8 934.0,1037.2 934.2,1064.8 934.4,1075.6 934.7,1064.2 934.9,1035.3 935.2,1001.2 935.5,974.9 935.8,962.5 936.0,960.5 936.3,962.7 936.6,976.3 936.8,1005.1 937.1,1042.5 937.4,1074.3 937.6,1086.7 937.9,1074.3 938.2,1042.6 938.4,1005.3 938.7,976.5 939.0,962.9 939.3,960.7 939.5,962.8 939.8,975.7 940.1,1003.0 940.3,1038.5 940.6,1068.6 940.9,1080.4 941.1,1069.5 941.4,1041.7 941.7,1009.1 941.9,983.8 942.2,972.0 942.5,970.1 942.7,972.3 943.0,985.9 943.2,1015.0 943.4,1052.6 943.7,1084.6 943.9,1097.1 944.2,1084.2 944.5,1051.2 944.8,1012.4 945.1,982.5 945.4,968.4 945.7,966.1 946.0,968.3 946.2,982.2 946.4,1011.6 946.7,1049.7 946.9,1082.1 947.2,1094.8 947.5,1082.0 947.8,1049.5 948.1,1011.3 948.4,981.7 948.6,967.8 948.9,965.6 949.2,967.9 949.4,982.6 949.7,1013.8 949.9,1054.2 950.1,1088.5 950.4,1102.0 950.7,1088.2 951.0,1053.2 951.3,1012.1 951.6,980.3 951.9,965.3 952.2,962.9 952.4,965.2 952.7,979.7 952.9,1010.5 953.1,1050.3 953.4,1084.2 953.6,1097.5 953.9,1084.5 954.2,1051.3 954.4,1012.2 954.7,982.1 955.0,967.9 955.2,965.6 955.5,967.8 955.7,981.8 955.9,1011.6 956.2,1050.1 956.4,1082.8 956.7,1095.7 957.0,1083.3 957.3,1051.8 957.6,1014.7 957.9,986.1 958.2,972.6 958.5,970.4 958.7,972.3 958.9,984.3 959.2,1009.6 959.4,1042.5 959.7,1070.4 959.9,1081.3 960.2,1069.3 960.5,1038.7 960.8,1002.7 961.1,974.9 961.4,961.8 961.7,959.6 961.9,962.2 962.2,977.9 962.4,1011.2 962.6,1054.4 962.9,1091.1 963.1,1105.6 963.4,1089.1 963.7,1047.1 963.9,997.7 964.2,959.5 964.5,941.5 964.7,938.6 965.0,941.4 965.2,958.5 965.5,994.7 965.7,1041.6 965.9,1081.5 966.2,1097.1 966.5,1083.2 966.8,1047.9 967.1,1006.3 967.4,974.2 967.7,959.0 968.0,956.6 968.2,958.7 968.5,971.8 968.7,999.6 968.9,1035.5 969.2,1066.1 969.4,1078.1 969.7,1066.4 970.0,1036.6 970.3,1001.5 970.6,974.4 970.9,961.7 971.2,959.6 971.4,961.7 971.7,974.4 971.9,1001.3 972.2,1036.1 972.4,1065.8 972.6,1077.4 972.9,1066.2 973.2,1037.6 973.5,1003.9 973.8,978.0 974.1,965.7 974.4,963.8 974.6,966.3 974.8,981.7 975.0,1014.5 975.2,1057.0 975.3,1093.2 975.5,1107.4 975.9,1094.5 976.2,1061.8 976.6,1023.2 976.9,993.5 977.3,979.5 977.7,977.2 977.9,979.4 978.1,992.8 978.3,1021.3 978.5,1058.3 978.7,1089.7 978.9,1102.0 979.2,1087.4 979.5,1050.3 979.8,1006.6 980.1,972.9 980.4,957.0 980.7,954.4 980.9,956.6 981.1,969.7 981.3,997.7 981.6,1033.9 981.8,1064.8 982.0,1076.8 982.3,1064.3 982.6,1032.4 983.0,994.8 983.3,965.8 983.6,952.1 983.9,949.9 984.2,952.3 984.4,966.8 984.6,997.7 984.8,1037.6 985.0,1071.6 985.2,1084.9 985.5,1072.5 985.9,1041.0 986.2,1003.9 986.5,975.3 986.9,961.8 987.2,959.6 987.4,961.6 987.6,973.6 987.8,999.0 988.0,1031.9 988.2,1059.9 988.4,1070.9 988.7,1061.6 989.0,1037.8 989.3,1009.8 989.6,988.2 989.9,978.0 990.2,976.3 990.4,978.1 990.6,989.0 990.9,1012.1 991.1,1042.0 991.3,1067.4 991.5,1077.4 991.8,1067.3 992.1,1041.8 992.5,1011.7 992.8,988.5 993.1,977.6 993.5,975.8 993.7,977.7 993.9,989.7 994.1,1015.0 994.3,1047.8 994.5,1075.8 994.7,1086.7 995.0,1073.3 995.3,1039.1 995.6,998.9 995.9,967.8 996.2,953.2 996.5,950.8 996.7,953.3 996.9,968.2 997.1,1000.0 997.4,1041.2 997.6,1076.2 997.8,1089.9 998.1,1076.7 998.4,1042.9 998.8,1003.2 999.1,972.5 999.4,958.0 999.7,955.7 1000.0,958.0 1000.2,972.3 1000.4,1002.8 1000.6,1042.2 1000.8,1075.7 1001.0,1088.9 1001.3,1078.2 1001.6,1051.0 1001.9,1019.0 1002.2,994.3 1002.5,982.7 1002.8,980.8 1003.0,982.9 1003.3,995.7 1003.5,1023.0 1003.8,1058.3 1004.0,1088.4 1004.2,1100.2 1004.5,1085.9 1004.8,1049.5 1005.1,1006.8 1005.4,973.8 1005.7,958.2 1006.0,955.7 1006.2,958.3 1006.4,974.4 1006.7,1008.5 1006.9,1052.7 1007.1,1090.3 1007.3,1105.0 1007.6,1091.8 1007.9,1058.0 1008.3,1018.4 1008.6,987.7 1008.9,973.3 1009.3,970.9 1009.5,973.1 1009.7,986.4 1009.9,1014.7 1010.1,1051.4 1010.3,1082.6 1010.5,1094.8 1010.8,1081.9 1011.2,1049.1 1011.5,1010.4 1011.8,980.6 1012.2,966.6 1012.5,964.3 1012.7,966.6 1012.9,980.8 1013.1,1010.9 1013.3,1049.9 1013.5,1083.0 1013.7,1096.1 1014.0,1082.7 1014.3,1048.6 1014.6,1008.6 1014.9,977.6 1015.2,963.1 1015.5,960.7 1015.7,963.3 1016.0,979.1 1016.2,1012.8 1016.4,1056.3 1016.6,1093.4 1016.8,1107.9 1017.1,1095.0 1017.5,1062.1 1017.8,1023.4 1018.1,993.6 1018.4,979.5 1018.8,977.2 1019.0,979.4 1019.2,992.8 1019.4,1021.1 1019.6,1057.9 1019.8,1089.2 1020.0,1101.4 1020.4,1088.2 1020.7,1054.6 1021.0,1015.1 1021.3,984.6 1021.7,970.2 1022.0,967.9 1022.2,970.0 1022.4,983.3 1022.6,1011.5 1022.8,1048.0 1023.0,1079.0 1023.3,1091.2 1023.6,1079.9 1023.9,1051.3 1024.2,1017.5 1024.5,991.5 1024.8,979.2 1025.1,977.2 1025.3,979.1 1025.5,990.7 1025.7,1015.4 1025.9,1047.4 1026.1,1074.6 1026.3,1085.3 1026.6,1072.1 1026.8,1038.5 1027.1,999.0 1027.4,968.4 1027.7,954.1 1027.9,951.7 1028.2,954.3 1028.5,970.3 1028.7,1004.2 1029.0,1048.2 1029.3,1085.5 1029.5,1100.2 1029.8,1085.7 1030.1,1048.8 1030.4,1005.4 1030.7,971.9 1031.0,956.1 1031.3,953.5 1031.6,955.9 1031.8,970.9 1032.1,1002.7 1032.3,1043.8 1032.5,1078.7 1032.8,1092.5 1033.1,1078.6 1033.4,1043.1 1033.7,1001.5 1034.0,969.3 1034.3,954.2 1034.6,951.7 1034.8,954.2 1035.0,969.2 1035.3,1001.1 1035.5,1042.3 1035.8,1077.4 1036.0,1091.2 1036.3,1078.6 1036.6,1046.5 1036.9,1008.8 1037.2,979.7 1037.5,966.0 1037.8,963.8 1038.0,966.1 1038.3,980.4 1038.5,1010.9 1038.8,1050.4 1039.0,1084.0 1039.2,1097.1 1039.5,1084.6 1039.8,1052.6 1040.1,1015.0 1040.4,985.9 1040.7,972.3 1041.0,970.1 1041.3,972.0 1041.5,984.0 1041.7,1009.5 1042.0,1042.6 1042.2,1070.7 1042.5,1081.7 1042.7,1071.4 1043.0,1045.1 1043.3,1014.2 1043.5,990.3 1043.8,979.0 1044.1,977.2 1044.3,979.1 1044.6,990.4 1044.8,1014.4 1045.0,1045.4 1045.3,1071.9 1045.5,1082.2 1045.8,1069.6 1046.1,1037.4 1046.4,999.6 1046.7,970.4 1047.0,956.7 1047.3,954.4 1047.5,956.7 1047.8,971.0 1048.0,1001.2 1048.3,1040.4 1048.5,1073.7 1048.7,1086.7 1049.0,1073.7 1049.3,1040.5 1049.6,1001.4 1049.8,971.3 1050.1,957.1 1050.4,954.8 1050.6,957.3 1050.9,972.6 1051.2,1005.1 1051.4,1047.2 1051.7,1083.1 1052.0,1097.1 1052.2,1083.5 1052.5,1048.9 1052.7,1008.3 1052.9,976.8 1053.2,962.0 1053.4,959.6 1053.7,961.8 1053.9,975.2 1054.2,1003.6 1054.5,1040.4 1054.8,1071.7 1055.0,1084.0 1055.3,1071.1 1055.6,1038.3 1055.8,999.7 1056.1,969.8 1056.4,955.8 1056.6,953.5 1056.9,955.9 1057.2,970.7 1057.4,1002.2 1057.7,1043.0 1058.0,1077.6 1058.3,1091.2 1058.5,1077.1 1058.8,1041.0 1059.1,998.6 1059.3,965.9 1059.6,950.5 1059.9,948.0 1060.1,950.7 1060.4,967.5 1060.7,1003.2 1060.9,1049.5 1061.2,1088.9 1061.5,1104.3 1061.8,1090.9 1062.0,1056.8 1062.3,1016.6 1062.6,985.6 1062.8,971.0 1063.1,968.6 1063.3,970.5 1063.6,981.9 1063.8,1006.2 1064.1,1037.7 1064.3,1064.5 1064.5,1075.1 1064.8,1063.6 1065.1,1034.4 1065.3,1000.0 1065.6,973.4 1065.9,960.9 1066.2,958.9 1066.4,961.0 1066.7,973.8 1067.0,1000.9 1067.2,1036.1 1067.5,1066.0 1067.8,1077.7 1068.0,1064.8 1068.3,1031.9 1068.6,993.3 1068.8,963.4 1069.1,949.3 1069.4,947.1 1069.7,949.3 1069.9,963.3 1070.2,993.0 1070.5,1031.4 1070.7,1064.0 1071.0,1076.8 1071.3,1065.3 1071.5,1035.8 1071.8,1001.1 1072.1,974.3 1072.3,961.7 1072.6,959.6 1072.9,961.7 1073.1,974.4 1073.3,1001.3 1073.6,1036.1 1073.8,1065.8 1074.1,1077.4 1074.3,1064.4 1074.6,1031.5 1074.9,992.7 1075.1,962.7 1075.4,948.6 1075.7,946.4 1075.9,948.8 1076.2,963.8 1076.5,995.7 1076.7,1036.9 1077.0,1072.0 1077.3,1085.8 1077.6,1073.0 1077.8,1040.2 1078.1,1001.7 1078.4,972.0 1078.6,957.9 1078.9,955.7 1079.2,958.1 1079.4,972.7 1079.7,1003.8 1080.0,1044.1 1080.2,1078.3 1080.5,1091.7 1080.8,1078.6 1081.1,1045.0 1081.3,1005.5 1081.6,975.1 1081.9,960.7 1082.1,958.4 1082.4,960.5 1082.6,973.6 1082.8,1001.5 1083.1,1037.7 1083.3,1068.4 1083.6,1080.4 1083.8,1065.7 1084.1,1028.0 1084.4,983.8 1084.6,949.6 1084.9,933.5 1085.2,930.9 1085.4,933.4 1085.7,948.8 1086.0,981.6 1086.3,1024.0 1086.5,1060.0 1086.8,1074.2 1087.1,1062.6 1087.3,1033.1 1087.6,998.5 1087.9,971.8 1088.1,959.2 1088.4,957.1 1088.7,959.6 1088.9,975.0 1089.2,1007.7 1089.5,1050.0 1089.8,1086.0 1090.0,1100.2 1090.3,1086.0 1090.6,1049.7 1090.8,1007.1 1091.1,974.2 1091.4,958.7 1091.6,956.2 1091.9,958.7 1092.1,973.8 1092.4,1006.0 1092.6,1047.7 1092.8,1083.2 1093.1,1097.1 1093.3,1084.1 1093.6,1050.8 1093.9,1011.7 1094.2,981.5 1094.4,967.3 1094.7,965.0 1095.0,967.1 1095.2,980.2 1095.5,1007.9 1095.8,1043.8 1096.0,1074.4 1096.3,1086.4 1096.6,1074.2 1096.8,1043.1 1097.1,1006.5 1097.4,978.3 1097.7,965.0 1097.9,962.9 1098.2,965.3 1098.5,980.4 1098.7,1012.4 1099.0,1053.8 1099.3,1089.0 1099.5,1102.9 1099.8,1088.5 1100.0,1051.8 1100.3,1008.7 1100.5,975.3 1100.7,959.7 1101.0,957.1 1101.2,959.3 1101.5,972.8 1101.8,1001.4 1102.1,1038.4 1102.3,1069.9 1102.6,1082.2 1102.9,1069.1 1103.1,1035.8 1103.4,996.6 1103.7,966.3 1103.9,952.1 1104.2,949.8 1104.5,952.3 1104.7,967.7 1105.0,1000.4 1105.3,1042.8 1105.6,1078.9 1105.8,1093.0 1106.1,1079.4 1106.3,1044.7 1106.5,1003.9 1106.8,972.4 1107.0,957.5 1107.3,955.2 1107.6,957.5 1107.9,971.8 1108.2,1002.2 1108.5,1041.5 1108.8,1075.0 1109.1,1088.2 1109.2,1074.6 1109.4,1040.0 1109.6,999.3 1109.8,967.9 1109.9,953.1 1110.1,950.7" fill="none" stroke="#0000ff" stroke-width="2.10" stroke-linejoin="round" stroke-linecap="round"/>
<line x1="161.0" y1="973.5" x2="1108" y2="973.5" stroke="#000" stroke-width="1.1"/>
<line x1="161.0" y1="1118" x2="1106.5" y2="1118" stroke="#000" stroke-width="1.35"/>
<line x1="161.0" y1="1016.9" x2="1109" y2="1016.9" stroke="#00c0ff" stroke-width="2"/>
<path d="M1109.6,976.6V986.4M1104.7,977.7L1114.5,985.3M1104.7,985.3L1114.5,977.7M1112.6,969.1V978.9M1107.7,970.2L1117.5,977.8M1107.7,977.8L1117.5,970.2M1109.6,994.1V1003.9M1104.7,995.2L1114.5,1002.8M1104.7,1002.8L1114.5,995.2M1112.6,989.9V999.7M1107.7,991.0L1117.5,998.6M1107.7,998.6L1117.5,991.0M1109.6,1016.3V1026.1M1104.7,1017.4L1114.5,1025.0M1104.7,1025.0L1114.5,1017.4M1109.4,1047.5V1057.3M1104.5,1048.6L1114.3,1056.2M1104.5,1056.2L1114.3,1048.6M1113.0,1042.7V1052.5M1108.1,1043.8L1117.9,1051.4M1108.1,1051.4L1117.9,1043.8M1108.2,1093.5V1103.3M1103.3,1094.6L1113.1,1102.2M1103.3,1102.2L1113.1,1094.6M1109.6,1091.3V1101.1M1104.7,1092.4L1114.5,1100.0M1104.7,1100.0L1114.5,1092.4M1108.6,1113.1V1123.0M1103.7,1114.2L1113.5,1121.8M1103.7,1121.8L1113.5,1114.2" fill="none" stroke="#ff0000" stroke-width="1.4" stroke-linecap="round"/>
<line x1="319.1" y1="932.7" x2="319.1" y2="1136.0" stroke="#000" stroke-width="1.5" stroke-dasharray="5.1 6.58"/>
<line x1="477.6" y1="932.7" x2="477.6" y2="1136.0" stroke="#000" stroke-width="1.5" stroke-dasharray="5.1 6.58"/>
<line x1="636.0" y1="932.7" x2="636.0" y2="1136.0" stroke="#000" stroke-width="1.5" stroke-dasharray="5.1 6.58"/>
<line x1="794.5" y1="932.7" x2="794.5" y2="1136.0" stroke="#000" stroke-width="1.5" stroke-dasharray="5.1 6.58"/>
<line x1="952.9" y1="932.7" x2="952.9" y2="1136.0" stroke="#000" stroke-width="1.5" stroke-dasharray="5.1 6.58"/>
<rect x="161.0" y="925.0" width="950.4" height="211.0" fill="none" stroke="#000" stroke-width="2.3"/>
<path d="M319.1,925.0V905.4M319.1,1136.0V1155.6M477.6,925.0V905.4M477.6,1136.0V1155.6M636.0,925.0V905.4M636.0,1136.0V1155.6M794.5,925.0V905.4M794.5,1136.0V1155.6M952.9,925.0V905.4M952.9,1136.0V1155.6M1111.4,925.0V905.4M1111.4,1136.0V1155.6M161.0,925.0H141.4M1111.4,925.0H1131.0M161.0,977.8H141.4M1111.4,977.8H1131.0M161.0,1030.5H141.4M1111.4,1030.5H1131.0M161.0,1083.2H141.4M1111.4,1083.2H1131.0M161.0,1136.0H141.4M1111.4,1136.0H1131.0" stroke="#000" stroke-width="2.3" stroke-linecap="round" fill="none"/>
<path d="M192.3,925.0V915.2M192.3,1136.0V1145.8M224.0,925.0V915.2M224.0,1136.0V1145.8M255.7,925.0V915.2M255.7,1136.0V1145.8M287.4,925.0V915.2M287.4,1136.0V1145.8M350.8,925.0V915.2M350.8,1136.0V1145.8M382.5,925.0V915.2M382.5,1136.0V1145.8M414.2,925.0V915.2M414.2,1136.0V1145.8M445.9,925.0V915.2M445.9,1136.0V1145.8M509.3,925.0V915.2M509.3,1136.0V1145.8M540.9,925.0V915.2M540.9,1136.0V1145.8M572.6,925.0V915.2M572.6,1136.0V1145.8M604.3,925.0V915.2M604.3,1136.0V1145.8M667.7,925.0V915.2M667.7,1136.0V1145.8M699.4,925.0V915.2M699.4,1136.0V1145.8M731.1,925.0V915.2M731.1,1136.0V1145.8M762.8,925.0V915.2M762.8,1136.0V1145.8M826.2,925.0V915.2M826.2,1136.0V1145.8M857.9,925.0V915.2M857.9,1136.0V1145.8M889.6,925.0V915.2M889.6,1136.0V1145.8M921.2,925.0V915.2M921.2,1136.0V1145.8M984.6,925.0V915.2M984.6,1136.0V1145.8M1016.3,925.0V915.2M1016.3,1136.0V1145.8M1048.0,925.0V915.2M1048.0,1136.0V1145.8M1079.7,925.0V915.2M1079.7,1136.0V1145.8M161.0,935.5H151.2M1111.4,935.5H1121.2M161.0,946.1H151.2M1111.4,946.1H1121.2M161.0,956.6H151.2M1111.4,956.6H1121.2M161.0,967.2H151.2M1111.4,967.2H1121.2M161.0,988.3H151.2M1111.4,988.3H1121.2M161.0,998.9H151.2M1111.4,998.9H1121.2M161.0,1009.4H151.2M1111.4,1009.4H1121.2M161.0,1020.0H151.2M1111.4,1020.0H1121.2M161.0,1041.0H151.2M1111.4,1041.0H1121.2M161.0,1051.6H151.2M1111.4,1051.6H1121.2M161.0,1062.2H151.2M1111.4,1062.2H1121.2M161.0,1072.7H151.2M1111.4,1072.7H1121.2M161.0,1093.8H151.2M1111.4,1093.8H1121.2M161.0,1104.3H151.2M1111.4,1104.3H1121.2M161.0,1114.9H151.2M1111.4,1114.9H1121.2M161.0,1125.5H151.2M1111.4,1125.5H1121.2" stroke="#000" stroke-width="1.3" stroke-linecap="round" fill="none"/>
</g>
</svg>
<svg id="labels" width="1138" height="1248" viewBox="0 0 1138 1248">
<text transform="translate(232.3,31.2) scale(0.967,1)" font-size="36.00">NBFP1000TROC_p1500_PARCIM_mem02</text>
<text transform="translate(123.0,146.3) scale(0.972,1)" text-anchor="end" font-size="27.2">0.600</text>
<text transform="translate(123.0,181.5) scale(0.972,1)" text-anchor="end" font-size="27.2">0.500</text>
<text transform="translate(123.0,216.6) scale(0.972,1)" text-anchor="end" font-size="27.2">0.400</text>
<text transform="translate(123.0,251.8) scale(0.972,1)" text-anchor="end" font-size="27.2">0.300</text>
<text transform="translate(123.0,286.9) scale(0.972,1)" text-anchor="end" font-size="27.2">0.200</text>
<text transform="translate(123.0,322.1) scale(0.972,1)" text-anchor="end" font-size="27.2">0.100</text>
<text transform="translate(123.0,357.2) scale(0.972,1)" text-anchor="end" font-size="27.2">0.000</text>
<text transform="translate(319.1,405.7) scale(0.972,1)" text-anchor="middle" font-size="27.2">550</text>
<text transform="translate(477.6,405.7) scale(0.972,1)" text-anchor="middle" font-size="27.2">600</text>
<text transform="translate(636.0,405.7) scale(0.972,1)" text-anchor="middle" font-size="27.2">650</text>
<text transform="translate(794.5,405.7) scale(0.972,1)" text-anchor="middle" font-size="27.2">700</text>
<text transform="translate(952.9,405.7) scale(0.972,1)" text-anchor="middle" font-size="27.2">750</text>
<text transform="translate(1111.4,405.7) scale(0.972,1)" text-anchor="middle" font-size="27.2">800</text>
<text transform="translate(636.4,453.3) scale(1.005,1)" text-anchor="middle" font-size="34.50">Years</text>
<text transform="translate(36.8,426.5) rotate(-90) scale(0.962,1)" font-size="34.50">Ross Ice Volume 10<tspan font-size="22.0" dy="-15.6">13</tspan><tspan dy="15.6"> m</tspan><tspan font-size="22.0" dy="-15.6">3</tspan></text>
<text transform="translate(123.0,540.5) scale(0.972,1)" text-anchor="end" font-size="27.2">0.180</text>
<text transform="translate(123.0,575.7) scale(0.972,1)" text-anchor="end" font-size="27.2">0.150</text>
<text transform="translate(123.0,610.9) scale(0.972,1)" text-anchor="end" font-size="27.2">0.120</text>
<text transform="translate(123.0,646.0) scale(0.972,1)" text-anchor="end" font-size="27.2">0.090</text>
<text transform="translate(123.0,681.2) scale(0.972,1)" text-anchor="end" font-size="27.2">0.060</text>
<text transform="translate(123.0,716.4) scale(0.972,1)" text-anchor="end" font-size="27.2">0.030</text>
<text transform="translate(123.0,751.5) scale(0.972,1)" text-anchor="end" font-size="27.2">0.000</text>
<text transform="translate(319.1,800.0) scale(0.972,1)" text-anchor="middle" font-size="27.2">550</text>
<text transform="translate(477.6,800.0) scale(0.972,1)" text-anchor="middle" font-size="27.2">600</text>
<text transform="translate(636.0,800.0) scale(0.972,1)" text-anchor="middle" font-size="27.2">650</text>
<text transform="translate(794.5,800.0) scale(0.972,1)" text-anchor="middle" font-size="27.2">700</text>
<text transform="translate(952.9,800.0) scale(0.972,1)" text-anchor="middle" font-size="27.2">750</text>
<text transform="translate(1111.4,800.0) scale(0.972,1)" text-anchor="middle" font-size="27.2">800</text>
<text transform="translate(636.4,847.6) scale(1.005,1)" text-anchor="middle" font-size="34.50">Years</text>
<text transform="translate(36.8,840.1) rotate(-90) scale(0.962,1)" font-size="34.50">Ross Snow Volume 10<tspan font-size="22.0" dy="-15.6">13</tspan><tspan dy="15.6"> m</tspan><tspan font-size="22.0" dy="-15.6">3</tspan></text>
<text transform="translate(123.0,934.8) scale(0.972,1)" text-anchor="end" font-size="27.2">4.00</text>
<text transform="translate(123.0,987.5) scale(0.972,1)" text-anchor="end" font-size="27.2">3.00</text>
<text transform="translate(123.0,1040.2) scale(0.972,1)" text-anchor="end" font-size="27.2">2.00</text>
<text transform="translate(123.0,1093.0) scale(0.972,1)" text-anchor="end" font-size="27.2">1.00</text>
<text transform="translate(123.0,1145.8) scale(0.972,1)" text-anchor="end" font-size="27.2">0.00</text>
<text transform="translate(319.1,1194.2) scale(0.972,1)" text-anchor="middle" font-size="27.2">550</text>
<text transform="translate(477.6,1194.2) scale(0.972,1)" text-anchor="middle" font-size="27.2">600</text>
<text transform="translate(636.0,1194.2) scale(0.972,1)" text-anchor="middle" font-size="27.2">650</text>
<text transform="translate(794.5,1194.2) scale(0.972,1)" text-anchor="middle" font-size="27.2">700</text>
<text transform="translate(952.9,1194.2) scale(0.972,1)" text-anchor="middle" font-size="27.2">750</text>
<text transform="translate(1111.4,1194.2) scale(0.972,1)" text-anchor="middle" font-size="27.2">800</text>
<text transform="translate(636.4,1241.8) scale(1.005,1)" text-anchor="middle" font-size="34.50">Years</text>
<text transform="translate(51.2,1193.9) rotate(-90) scale(0.962,1)" font-size="34.50">Ross Ice Area 10<tspan font-size="22.0" dy="-15.6">12</tspan><tspan dy="15.6"> m</tspan><tspan font-size="22.0" dy="-15.6">2</tspan></text>
</svg>
</div></body></html>
